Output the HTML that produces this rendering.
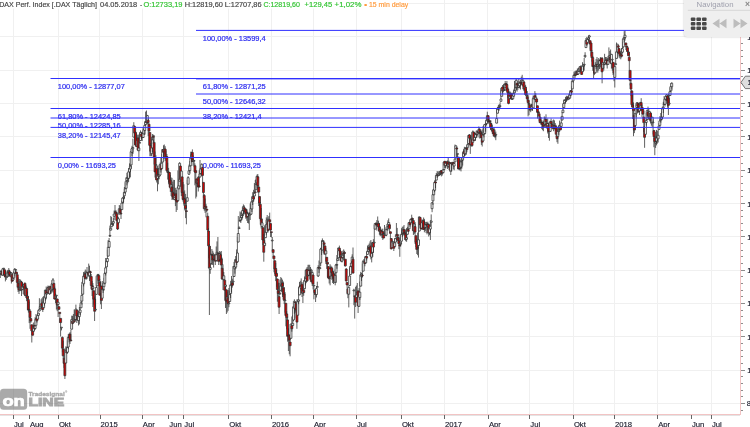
<!DOCTYPE html>
<html><head><meta charset="utf-8"><style>
html,body{margin:0;padding:0;background:#fff;width:750px;height:427px;overflow:hidden}
body{position:relative;font-family:"Liberation Sans",Arial,sans-serif}
.c{position:absolute;left:0;top:0}
.cd path{stroke:#2e2e2e;stroke-width:0.75} .cd .r{fill:#d80000} .cd .w{fill:#fff}
text{font-family:"Liberation Sans",Arial,sans-serif}
.fib text{font-size:7.45px;fill:#2f2ff0;stroke:#2f2ff0;stroke-width:0.22px}
.ax{font-size:7.7px;fill:#202030;stroke:#202030;stroke-width:0.15px}
.lg{font-weight:bold;font-size:15px;fill:#fff;stroke:#fff;stroke-width:0.7px}
.lg2{font-weight:bold;font-size:11.4px;fill:#555;stroke:#555;stroke-width:0.9px;opacity:0.5}
.lg3{font-weight:bold;font-size:5px;fill:#555;stroke:#555;stroke-width:0.3px;opacity:0.5}
.hd text{font-size:7.9px}
.hd text{stroke-width:0.18px} .hd .h{fill:#444;stroke:#444} .hd .g{fill:#33c433;stroke:#33c433} .hd .o{fill:#ff9a3c;stroke:#ff9a3c}
#nav{position:absolute;left:683.5px;top:-6px;width:80px;height:42.5px;background:#efefef;border-radius:3px;box-shadow:0 0 2px rgba(0,0,0,0.25);overflow:hidden}
#nav svg{position:absolute;left:0;top:0}
.nt{font-size:7.9px;fill:#9fa0ad}
.nx{font-size:8.5px;fill:#888;font-weight:bold}
</style></head><body>
<svg class="c" width="750" height="427" viewBox="0 0 750 427">
<path d="M13.5 0V414M58.5 0V414M99.5 0V414M142.5 0V414M183.5 0V414M228.5 0V414M271.5 0V414M313.5 0V414M356.5 0V414M401.5 0V414M444.5 0V414M487.5 0V414M529.5 0V414M573.5 0V414M614.5 0V414M657.5 0V414M711.5 0V414M0 3.5H740M0 36.5H740M0 70.5H740M0 103.5H740M0 136.5H740M0 170.5H740M0 203.5H740M0 236.5H740M0 270.5H740M0 303.5H740M0 336.5H740M0 370.5H740M0 403.5H740" stroke="#f0f0f0" stroke-width="1" fill="none" shape-rendering="crispEdges"/>
<g class="logo">
 <rect x="0" y="388.8" width="27.2" height="21" rx="3.6" fill="#555" opacity="0.5"/>
 <text x="2.4" y="406.4" class="lg" textLength="22.4" lengthAdjust="spacingAndGlyphs">on</text>
 <text x="28.4" y="406.3" class="lg2" textLength="35.8" lengthAdjust="spacingAndGlyphs">LINE</text>
 <text x="28.5" y="395.7" class="lg3" textLength="36.2" lengthAdjust="spacingAndGlyphs">Tradesignal</text>
 <text x="65.2" y="393.4" class="lg3" style="font-size:2.6px;stroke-width:0.1px">®</text>
</g>
<g class="cd"><path class="w" d="M0.3 270.6V273.6M0.3 274.4V278M-0.7 273.6h1.9v0.8h-1.9z"/><path class="w" d="M1.1 269.9V271.5M1.1 273.5V274.7M0.2 271.5h1.9v2h-1.9z"/><path class="r" d="M2 270.5V271.6M2 274.9V275.5M1.1 271.6h1.9v3.3h-1.9z"/><path class="w" d="M2.9 268.5V268.8M2.9 275.3V275.6M1.9 268.8h1.9v6.4h-1.9z"/><path class="w" d="M3.7 268V268.2M3.7 268.9V275.6M2.7 268.2h1.9v0.7h-1.9z"/><path class="r" d="M4.5 269.5V269.8M4.5 274.7V277M3.6 269.8h1.9v5h-1.9z"/><path class="r" d="M5.4 270.7V275.1M5.4 276.8V281.4M4.4 275.1h1.9v1.8h-1.9z"/><path class="w" d="M6.2 274.3V276.7M6.2 277.8V280M5.3 276.7h1.9v1.1h-1.9z"/><path class="w" d="M7.1 270.6V273M7.1 276.7V277.6M6.2 273h1.9v3.7h-1.9z"/><path class="w" d="M7.9 269.8V271.6M7.9 272.3V276.5M7 271.6h1.9v0.7h-1.9z"/><path class="w" d="M8.8 268V270.6M8.8 271.8V276.9M7.8 270.6h1.9v1.1h-1.9z"/><path class="r" d="M9.6 269.8V271.7M9.6 274.8V276M8.7 271.7h1.9v3.1h-1.9z"/><path class="r" d="M10.5 271.9V274.1M10.5 276.3V276.5M9.6 274.1h1.9v2.2h-1.9z"/><path class="w" d="M11.4 272V273.2M11.4 276.9V283.5M10.4 273.2h1.9v3.7h-1.9z"/><path class="r" d="M12.2 274.1V274.4M12.2 281.2V281.7M11.2 274.4h1.9v6.8h-1.9z"/><path class="w" d="M13 273.9V278.3M13 279.9V281M12.1 278.3h1.9v1.7h-1.9z"/><path class="w" d="M13.9 271.3V272.8M13.9 278V278.4M12.9 272.8h1.9v5.1h-1.9z"/><path class="w" d="M14.8 268V269.2M14.8 273V276.5M13.8 269.2h1.9v3.7h-1.9z"/><path class="w" d="M15.6 269.5V269.5M15.6 270.2V272.8M14.7 269.5h1.9v0.7h-1.9z"/><path class="r" d="M16.4 271.8V272.1M16.4 273.8V274.6M15.5 272.1h1.9v1.7h-1.9z"/><path class="r" d="M17.3 273V274.7M17.3 282.4V288.3M16.3 274.7h1.9v7.7h-1.9z"/><path class="r" d="M18.1 277.4V283M18.1 287V292M17.2 283h1.9v4h-1.9z"/><path class="r" d="M19 279V287.6M19 290.1V294M18.1 287.6h1.9v2.5h-1.9z"/><path class="w" d="M19.9 279V288M19.9 288.7V291.3M18.9 288h1.9v0.7h-1.9z"/><path class="w" d="M20.7 279.9V281.4M20.7 290V290.8M19.7 281.4h1.9v8.6h-1.9z"/><path class="r" d="M21.5 281V282.1M21.5 290V296M20.6 282.1h1.9v7.8h-1.9z"/><path class="w" d="M22.4 282.9V286.5M22.4 289.6V289.7M21.4 286.5h1.9v3.1h-1.9z"/><path class="w" d="M23.2 284.4V286.6M23.2 287.3V294.1M22.3 286.6h1.9v0.7h-1.9z"/><path class="w" d="M24.1 283.7V284.4M24.1 286.6V288M23.2 284.4h1.9v2.2h-1.9z"/><path class="r" d="M24.9 282.4V283.3M24.9 295V296.1M24 283.3h1.9v11.8h-1.9z"/><path class="w" d="M25.8 284.9V288.4M25.8 295.7V298M24.8 288.4h1.9v7.3h-1.9z"/><path class="r" d="M26.6 286.6V288.5M26.6 295.9V301.2M25.7 288.5h1.9v7.3h-1.9z"/><path class="r" d="M27.5 291.6V296.2M27.5 298.7V309.8M26.6 296.2h1.9v2.5h-1.9z"/><path class="r" d="M28.4 296.6V299.6M28.4 310.1V312.6M27.4 299.6h1.9v10.5h-1.9z"/><path class="r" d="M29.2 301.4V309.4M29.2 310.1V323.1M28.2 309.4h1.9v0.7h-1.9z"/><path class="r" d="M30 310.6V310.9M30 317.5V328.8M29.1 310.9h1.9v6.6h-1.9z"/><path class="r" d="M30.9 318.3V318.6M30.9 321.1V322.8M29.9 318.6h1.9v2.5h-1.9z"/><path class="r" d="M31.8 324.5V324.8M31.8 330.8V342.5M30.8 324.8h1.9v6h-1.9z"/><path class="r" d="M32.6 328.5V331.1M32.6 335.2V335.5M31.7 331.1h1.9v4.1h-1.9z"/><path class="w" d="M33.4 322.5V326.4M33.4 331.3V332M32.5 326.4h1.9v4.9h-1.9z"/><path class="r" d="M34.3 325.1V325.4M34.3 328.5V330.6M33.3 325.4h1.9v3h-1.9z"/><path class="w" d="M35.1 317.3V326M35.1 328.4V330M34.2 326h1.9v2.5h-1.9z"/><path class="w" d="M36 314V319.2M36 325.4V325.7M35 319.2h1.9v6.2h-1.9z"/><path class="r" d="M36.9 315.4V318M36.9 320.9V322.6M35.9 318h1.9v2.8h-1.9z"/><path class="w" d="M37.7 310.3V315.6M37.7 319.1V319.4M36.7 315.6h1.9v3.5h-1.9z"/><path class="w" d="M38.5 312.8V313.2M38.5 315.3V315.6M37.6 313.2h1.9v2.1h-1.9z"/><path class="w" d="M39.4 298.2V309.3M39.4 311V311.3M38.4 309.3h1.9v1.7h-1.9z"/><path class="w" d="M40.2 306.1V306.6M40.2 308.7V309M39.3 306.6h1.9v2h-1.9z"/><path class="w" d="M41.1 299.3V304.1M41.1 307.1V307.7M40.2 304.1h1.9v3h-1.9z"/><path class="r" d="M41.9 298.2V303.1M41.9 306.3V310.1M41 303.1h1.9v3.2h-1.9z"/><path class="r" d="M42.8 296.9V307.2M42.8 309.5V312M41.8 307.2h1.9v2.3h-1.9z"/><path class="w" d="M43.6 298.2V301.9M43.6 307.7V308M42.7 301.9h1.9v5.8h-1.9z"/><path class="w" d="M44.5 294V296.5M44.5 303.3V305.6M43.5 296.5h1.9v6.8h-1.9z"/><path class="w" d="M45.4 289.8V290.1M45.4 297.9V300.7M44.4 290.1h1.9v7.8h-1.9z"/><path class="r" d="M46.2 286.5V290.5M46.2 293.8V299.3M45.2 290.5h1.9v3.3h-1.9z"/><path class="w" d="M47 288.1V292.9M47 293.9V294.2M46.1 292.9h1.9v1h-1.9z"/><path class="w" d="M47.9 285.6V287.6M47.9 292.3V292.6M46.9 287.6h1.9v4.7h-1.9z"/><path class="r" d="M48.8 285.9V287.4M48.8 293.3V293.8M47.8 287.4h1.9v5.8h-1.9z"/><path class="w" d="M49.6 286V286.3M49.6 293.8V294.8M48.7 286.3h1.9v7.5h-1.9z"/><path class="r" d="M50.4 286.6V286.8M50.4 290V293.9M49.5 286.8h1.9v3.1h-1.9z"/><path class="w" d="M51.3 284.5V288.6M51.3 290.7V293.5M50.3 288.6h1.9v2.1h-1.9z"/><path class="w" d="M52.1 280.3V283.7M52.1 289.4V291.7M51.2 283.7h1.9v5.7h-1.9z"/><path class="w" d="M53 278V279.9M53 284.8V292.6M52 279.9h1.9v4.8h-1.9z"/><path class="r" d="M53.9 283.1V283.4M53.9 288.8V290M52.9 283.4h1.9v5.4h-1.9z"/><path class="r" d="M54.7 286.6V288.8M54.7 299V299.7M53.7 288.8h1.9v10.2h-1.9z"/><path class="w" d="M55.5 293.5V296.3M55.5 297.7V303.2M54.6 296.3h1.9v1.4h-1.9z"/><path class="w" d="M56.4 295V295.2M56.4 295.9V309.5M55.4 295.2h1.9v0.7h-1.9z"/><path class="r" d="M57.2 298.7V299M57.2 305.1V311.2M56.3 299h1.9v6.1h-1.9z"/><path class="w" d="M58.1 301.9V302.3M58.1 304.4V317M57.2 302.3h1.9v2.1h-1.9z"/><path class="r" d="M58.9 306.4V306.7M58.9 309.3V309.9M58 306.7h1.9v2.6h-1.9z"/><path class="r" d="M59.8 312V312.3M59.8 313.6V323M58.8 312.3h1.9v1.3h-1.9z"/><path class="r" d="M60.6 318.1V318.4M60.6 322.5V336.5M59.7 318.4h1.9v4.2h-1.9z"/><path class="w" d="M61.5 327.2V327.2M61.5 327.9V330.4M60.5 327.2h1.9v0.7h-1.9z"/><path class="r" d="M62.4 336.5V337.4M62.4 348.2V352.2M61.4 337.4h1.9v10.8h-1.9z"/><path class="r" d="M63.2 340.7V349.1M63.2 355.8V358.7M62.2 349.1h1.9v6.7h-1.9z"/><path class="r" d="M64 355.5V358.3M64 363.4V367.8M63.1 358.3h1.9v5.1h-1.9z"/><path class="r" d="M64.9 348.4V359.5M64.9 375.7V379M63.9 359.5h1.9v16.2h-1.9z"/><path class="w" d="M65.8 346.4V350.4M65.8 363V363.3M64.8 350.4h1.9v12.6h-1.9z"/><path class="r" d="M66.6 346.7V351.3M66.6 352.6V353.1M65.7 351.3h1.9v1.4h-1.9z"/><path class="w" d="M67.4 340.4V347.5M67.4 352.2V353.8M66.5 347.5h1.9v4.7h-1.9z"/><path class="w" d="M68.3 334V337.5M68.3 347.1V349.2M67.3 337.5h1.9v9.5h-1.9z"/><path class="w" d="M69.1 333.4V336.2M69.1 336.9V342.3M68.2 336.2h1.9v0.7h-1.9z"/><path class="r" d="M70 332.1V334.1M70 339.8V344M69 334.1h1.9v5.6h-1.9z"/><path class="r" d="M70.9 329.8V340M70.9 340.7V341.5M69.9 340h1.9v0.7h-1.9z"/><path class="w" d="M71.7 315.7V319.7M71.7 329.2V329.5M70.7 319.7h1.9v9.5h-1.9z"/><path class="r" d="M72.5 315.8V321M72.5 323.5V324.4M71.6 321h1.9v2.5h-1.9z"/><path class="w" d="M73.4 314V319.2M73.4 322.6V323M72.4 319.2h1.9v3.4h-1.9z"/><path class="r" d="M74.2 309.5V320.2M74.2 321.8V322.1M73.3 320.2h1.9v1.6h-1.9z"/><path class="w" d="M75.1 310.4V319.7M75.1 320.4V320.4M74.2 319.7h1.9v0.7h-1.9z"/><path class="w" d="M75.9 304.6V309.1M75.9 319.5V319.8M75 309.1h1.9v10.4h-1.9z"/><path class="r" d="M76.8 309.8V310.1M76.8 315.8V323M75.8 310.1h1.9v5.8h-1.9z"/><path class="r" d="M77.6 312.9V316.2M77.6 319.7V320.7M76.7 316.2h1.9v3.4h-1.9z"/><path class="w" d="M78.5 310.8V316.6M78.5 320.6V325.5M77.5 316.6h1.9v4h-1.9z"/><path class="w" d="M79.4 307V312.6M79.4 316.6V324.4M78.4 312.6h1.9v4h-1.9z"/><path class="w" d="M80.2 304.6V310M80.2 312.7V315.1M79.2 310h1.9v2.7h-1.9z"/><path class="w" d="M81 300.5V302.9M81 307.8V308.1M80.1 302.9h1.9v4.9h-1.9z"/><path class="w" d="M81.9 285V295.4M81.9 301.1V304.6M80.9 295.4h1.9v5.7h-1.9z"/><path class="w" d="M82.8 278.7V282.2M82.8 294.2V295M81.8 282.2h1.9v12h-1.9z"/><path class="w" d="M83.6 272V276.1M83.6 283.8V286.4M82.7 276.1h1.9v7.7h-1.9z"/><path class="w" d="M84.4 271.5V273.6M84.4 276.6V277.3M83.5 273.6h1.9v3h-1.9z"/><path class="r" d="M85.3 269.5V274.1M85.3 278.5V279M84.3 274.1h1.9v4.4h-1.9z"/><path class="w" d="M86.1 270.6V278.3M86.1 279.1V279.1M85.2 278.3h1.9v0.7h-1.9z"/><path class="w" d="M87 267V272.4M87 277V277.3M86 272.4h1.9v4.7h-1.9z"/><path class="w" d="M87.9 271.8V272.6M87.9 273.3V276M86.9 272.6h1.9v0.7h-1.9z"/><path class="r" d="M88.7 263.6V272.5M88.7 274.8V276.3M87.7 272.5h1.9v2.3h-1.9z"/><path class="w" d="M89.5 265.7V271.5M89.5 275.8V281M88.6 271.5h1.9v4.3h-1.9z"/><path class="r" d="M90.4 270.7V271.7M90.4 272.7V278.6M89.4 271.7h1.9v1h-1.9z"/><path class="r" d="M91.2 274V276.5M91.2 285.5V288.9M90.3 276.5h1.9v9h-1.9z"/><path class="r" d="M92.1 281V285.6M92.1 289.5V296M91.2 285.6h1.9v3.9h-1.9z"/><path class="w" d="M92.9 283V286.9M92.9 288.4V307M92 286.9h1.9v1.5h-1.9z"/><path class="r" d="M93.8 290.5V290.8M93.8 299.2V304.5M92.8 290.8h1.9v8.4h-1.9z"/><path class="r" d="M94.6 296.6V299.1M94.6 311.3V321M93.7 299.1h1.9v12.2h-1.9z"/><path class="w" d="M95.5 293V309.3M95.5 310.1V310.1M94.5 309.3h1.9v0.7h-1.9z"/><path class="w" d="M96.4 276.5V287.5M96.4 294.4V294.7M95.4 287.5h1.9v6.9h-1.9z"/><path class="w" d="M97.2 275.5V275.8M97.2 285.8V286.1M96.2 275.8h1.9v10.1h-1.9z"/><path class="w" d="M98 274V274.4M98 275.1V283.8M97.1 274.4h1.9v0.7h-1.9z"/><path class="r" d="M98.9 275.3V275.6M98.9 280.6V286M97.9 275.6h1.9v5h-1.9z"/><path class="r" d="M99.8 278.9V282.2M99.8 295.2V296M98.8 282.2h1.9v12.9h-1.9z"/><path class="w" d="M100.6 281V286.6M100.6 293.3V304.3M99.7 286.6h1.9v6.7h-1.9z"/><path class="r" d="M101.4 285.8V286.1M101.4 300.4V309M100.5 286.1h1.9v14.3h-1.9z"/><path class="w" d="M102.3 281V289.4M102.3 298.2V298.5M101.3 289.4h1.9v8.8h-1.9z"/><path class="w" d="M103.1 288.8V289.2M103.1 289.9V293M102.2 289.2h1.9v0.7h-1.9z"/><path class="w" d="M104 277.8V283M104 286.7V290.6M103 283h1.9v3.7h-1.9z"/><path class="w" d="M104.9 272V273.4M104.9 283.2V284.4M103.9 273.4h1.9v9.8h-1.9z"/><path class="w" d="M105.7 258V267.8M105.7 273.1V275.5M104.7 267.8h1.9v5.3h-1.9z"/><path class="w" d="M106.5 260.6V261.3M106.5 266.9V267.3M105.6 261.3h1.9v5.6h-1.9z"/><path class="w" d="M107.4 249.8V258.5M107.4 261.6V262.5M106.4 258.5h1.9v3.1h-1.9z"/><path class="w" d="M108.2 240V247.3M108.2 256.1V256.4M107.3 247.3h1.9v8.8h-1.9z"/><path class="w" d="M109.1 238V241.5M109.1 247.3V248M108.2 241.5h1.9v5.8h-1.9z"/><path class="w" d="M109.9 225.6V235.4M109.9 236.1V237M109 235.4h1.9v0.7h-1.9z"/><path class="w" d="M110.8 216V228.3M110.8 230V230.3M109.8 228.3h1.9v1.8h-1.9z"/><path class="w" d="M111.6 217V223.8M111.6 226.8V227.1M110.7 223.8h1.9v2.9h-1.9z"/><path class="w" d="M112.5 222.6V223.9M112.5 224.6V224.8M111.5 223.9h1.9v0.7h-1.9z"/><path class="w" d="M113.4 217.7V221.5M113.4 223.2V226M112.4 221.5h1.9v1.7h-1.9z"/><path class="w" d="M114.2 210.4V214M114.2 216.3V220.3M113.2 214h1.9v2.3h-1.9z"/><path class="w" d="M115 205V211.7M115 212.4V213.3M114.1 211.7h1.9v0.7h-1.9z"/><path class="r" d="M115.9 210.1V212M115.9 213.6V215.7M114.9 212h1.9v1.6h-1.9z"/><path class="r" d="M116.8 212V213.7M116.8 220.4V220.7M115.8 213.7h1.9v6.7h-1.9z"/><path class="r" d="M117.6 216V219.6M117.6 228.9V230M116.7 219.6h1.9v9.4h-1.9z"/><path class="w" d="M118.4 217.1V218.8M118.4 222.7V224.5M117.5 218.8h1.9v3.9h-1.9z"/><path class="w" d="M119.3 205V208.7M119.3 214V214.3M118.3 208.7h1.9v5.4h-1.9z"/><path class="r" d="M120.1 205.7V209.3M120.1 213V213.3M119.2 209.3h1.9v3.6h-1.9z"/><path class="r" d="M121 208.3V213.3M121 214V219M120 213.3h1.9v0.7h-1.9z"/><path class="w" d="M121.9 200.6V203.1M121.9 209.6V209.9M120.9 203.1h1.9v6.5h-1.9z"/><path class="w" d="M122.7 197.8V198.1M122.7 202.2V203.5M121.7 198.1h1.9v4.1h-1.9z"/><path class="w" d="M123.5 192.6V197.1M123.5 197.9V203.4M122.6 197.1h1.9v0.8h-1.9z"/><path class="w" d="M124.4 187V192.4M124.4 195.8V199.2M123.4 192.4h1.9v3.4h-1.9z"/><path class="w" d="M125.2 182.3V188.8M125.2 192.1V194M124.3 188.8h1.9v3.3h-1.9z"/><path class="w" d="M126.1 177.1V181.2M126.1 188.3V189M125.2 181.2h1.9v7.1h-1.9z"/><path class="w" d="M126.9 172.8V178M126.9 180.5V185.4M126 178h1.9v2.6h-1.9z"/><path class="w" d="M127.8 175.5V178M127.8 178.7V183.3M126.8 178h1.9v0.7h-1.9z"/><path class="w" d="M128.6 168.1V171.8M128.6 178.2V182M127.7 171.8h1.9v6.5h-1.9z"/><path class="w" d="M129.5 163.4V168.5M129.5 172V177.4M128.6 168.5h1.9v3.4h-1.9z"/><path class="w" d="M130.4 158.1V166.1M130.4 169.1V177.3M129.4 166.1h1.9v3h-1.9z"/><path class="w" d="M131.2 149V151.7M131.2 164.9V168.5M130.2 151.7h1.9v13.2h-1.9z"/><path class="w" d="M132 145.8V148.5M132 152.4V156.1M131.1 148.5h1.9v3.9h-1.9z"/><path class="w" d="M132.9 138.7V147.5M132.9 148.8V154M131.9 147.5h1.9v1.3h-1.9z"/><path class="w" d="M133.8 122.2V125.7M133.8 137.1V137.4M132.8 125.7h1.9v11.4h-1.9z"/><path class="r" d="M134.6 125.9V126.6M134.6 133V144.5M133.7 126.6h1.9v6.5h-1.9z"/><path class="r" d="M135.4 131.4V132.3M135.4 145.1V145.4M134.5 132.3h1.9v12.7h-1.9z"/><path class="r" d="M136.3 132.8V145.4M136.3 146.3V146.8M135.3 145.4h1.9v0.9h-1.9z"/><path class="w" d="M137.1 134.5V140.6M137.1 146.3V146.8M136.2 140.6h1.9v5.7h-1.9z"/><path class="r" d="M138 135V137.9M138 150V151.1M137.1 137.9h1.9v12.2h-1.9z"/><path class="w" d="M138.9 134.4V148M138.9 150.7V161M137.9 148h1.9v2.7h-1.9z"/><path class="w" d="M139.7 132.8V142.5M139.7 143.2V143.3M138.7 142.5h1.9v0.7h-1.9z"/><path class="w" d="M140.5 130.4V132.4M140.5 140.5V140.8M139.6 132.4h1.9v8.1h-1.9z"/><path class="r" d="M141.4 132.1V134M141.4 136.6V139M140.4 134h1.9v2.6h-1.9z"/><path class="r" d="M142.2 131.6V136.8M142.2 137.5V141M141.3 136.8h1.9v0.7h-1.9z"/><path class="w" d="M143.1 127V133.5M143.1 137.5V137.8M142.2 133.5h1.9v4h-1.9z"/><path class="w" d="M143.9 129.1V129.5M143.9 133.9V134.2M143 129.5h1.9v4.4h-1.9z"/><path class="w" d="M144.8 121.1V125.4M144.8 130.4V135M143.8 125.4h1.9v5.1h-1.9z"/><path class="w" d="M145.6 111.6V122.2M145.6 124.5V125.8M144.7 122.2h1.9v2.3h-1.9z"/><path class="r" d="M146.5 110.5V121.7M146.5 122.4V122.9M145.6 121.7h1.9v0.7h-1.9z"/><path class="w" d="M147.4 114.9V115.6M147.4 122.3V124.2M146.4 115.6h1.9v6.7h-1.9z"/><path class="r" d="M148.2 118.7V120.3M148.2 122.6V136M147.2 120.3h1.9v2.3h-1.9z"/><path class="r" d="M149 123.4V124.2M149 131V145M148.1 124.2h1.9v6.8h-1.9z"/><path class="r" d="M149.9 132.1V132.4M149.9 145.7V156.2M148.9 132.4h1.9v13.3h-1.9z"/><path class="r" d="M150.8 143V145.5M150.8 151.3V156.2M149.8 145.5h1.9v5.8h-1.9z"/><path class="w" d="M151.6 136.9V147.8M151.6 153.7V156.2M150.7 147.8h1.9v5.9h-1.9z"/><path class="w" d="M152.4 134V139.9M152.4 147.9V152.1M151.5 139.9h1.9v8h-1.9z"/><path class="r" d="M153.3 134.6V136.3M153.3 137.3V144M152.3 136.3h1.9v1h-1.9z"/><path class="r" d="M154.1 135V142.4M154.1 156.9V164.5M153.2 142.4h1.9v14.5h-1.9z"/><path class="r" d="M155 151.5V157.7M155 171.8V177.5M154.1 157.7h1.9v14.2h-1.9z"/><path class="w" d="M155.9 155.2V164.5M155.9 165.2V179.6M154.9 164.5h1.9v0.8h-1.9z"/><path class="r" d="M156.7 168.7V168.7M156.7 180V182.5M155.7 168.7h1.9v11.3h-1.9z"/><path class="w" d="M157.5 165.6V174.4M157.5 178.4V191.3M156.6 174.4h1.9v4h-1.9z"/><path class="r" d="M158.4 168V174.5M158.4 176.3V184.3M157.4 174.5h1.9v1.8h-1.9z"/><path class="w" d="M159.2 165.6V174.8M159.2 176.2V179.3M158.3 174.8h1.9v1.4h-1.9z"/><path class="w" d="M160.1 162.6V164.6M160.1 175V175.3M159.1 164.6h1.9v10.4h-1.9z"/><path class="r" d="M160.9 157.9V165M160.9 169.5V172.6M160 165h1.9v4.6h-1.9z"/><path class="w" d="M161.8 154V163.2M161.8 168.5V168.8M160.8 163.2h1.9v5.3h-1.9z"/><path class="w" d="M162.6 149.4V149.6M162.6 162.1V162.4M161.7 149.6h1.9v12.5h-1.9z"/><path class="r" d="M163.5 145.3V149.6M163.5 152.4V158.5M162.5 149.6h1.9v2.7h-1.9z"/><path class="w" d="M164.3 144.5V149.3M164.3 150.7V154.3M163.4 149.3h1.9v1.4h-1.9z"/><path class="r" d="M165.2 146.2V149M165.2 158V161M164.2 149h1.9v9h-1.9z"/><path class="w" d="M166 150.4V156.5M166 158.9V159.1M165.1 156.5h1.9v2.3h-1.9z"/><path class="r" d="M166.9 154V156.6M166.9 170.5V172.6M165.9 156.6h1.9v13.9h-1.9z"/><path class="w" d="M167.7 162.8V171.4M167.7 172.1V179.6M166.8 171.4h1.9v0.7h-1.9z"/><path class="r" d="M168.6 167.9V172.1M168.6 172.8V184.3M167.6 172.1h1.9v0.7h-1.9z"/><path class="r" d="M169.4 172.2V172.5M169.4 182.2V187M168.5 172.5h1.9v9.7h-1.9z"/><path class="r" d="M170.3 175V180.1M170.3 187.4V191.9M169.3 180.1h1.9v7.3h-1.9z"/><path class="w" d="M171.1 177.4V184.4M171.1 188.7V196M170.2 184.4h1.9v4.3h-1.9z"/><path class="r" d="M172 177.9V187M172 191.8V200M171 187h1.9v4.8h-1.9z"/><path class="r" d="M172.8 181.6V192.3M172.8 196.9V199.5M171.9 192.3h1.9v4.6h-1.9z"/><path class="r" d="M173.7 179.8V193.8M173.7 198.9V199.2M172.8 193.8h1.9v5h-1.9z"/><path class="w" d="M174.5 180V195.7M174.5 199.6V200M173.6 195.7h1.9v3.9h-1.9z"/><path class="w" d="M175.4 187.8V196.9M175.4 197.6V206.1M174.4 196.9h1.9v0.7h-1.9z"/><path class="r" d="M176.2 190V193.8M176.2 200.8V212M175.3 193.8h1.9v6.9h-1.9z"/><path class="r" d="M177.1 189.7V199.7M177.1 202V210M176.1 199.7h1.9v2.3h-1.9z"/><path class="w" d="M177.9 170.4V187.5M177.9 200.6V200.9M177 187.5h1.9v13.1h-1.9z"/><path class="w" d="M178.8 178.7V185.8M178.8 188.9V189.2M177.8 185.8h1.9v3h-1.9z"/><path class="w" d="M179.6 162.2V163.3M179.6 181.1V181.4M178.7 163.3h1.9v17.8h-1.9z"/><path class="r" d="M180.5 165.8V166.1M180.5 179.6V186.8M179.5 166.1h1.9v13.5h-1.9z"/><path class="w" d="M181.3 170.8V171.1M181.3 180.1V196M180.4 171.1h1.9v9.1h-1.9z"/><path class="r" d="M182.2 176.6V176.9M182.2 192.6V196.3M181.2 176.9h1.9v15.6h-1.9z"/><path class="r" d="M183 182V192.2M183 199.5V201.6M182.1 192.2h1.9v7.3h-1.9z"/><path class="r" d="M183.9 184.3V198.2M183.9 199.3V205.6M182.9 198.2h1.9v1.1h-1.9z"/><path class="r" d="M184.7 190.4V199M184.7 203.7V210.4M183.8 199h1.9v4.7h-1.9z"/><path class="r" d="M185.6 193.9V205.4M185.6 208.5V218.1M184.6 205.4h1.9v3.1h-1.9z"/><path class="r" d="M186.4 200.1V210.8M186.4 211.5V224.3M185.5 210.8h1.9v0.7h-1.9z"/><path class="w" d="M187.3 179.8V197.7M187.3 201.3V201.6M186.3 197.7h1.9v3.5h-1.9z"/><path class="w" d="M188.1 176.1V177.7M188.1 184.2V184.5M187.2 177.7h1.9v6.5h-1.9z"/><path class="w" d="M189 164.6V170.8M189 174.2V175M188 170.8h1.9v3.4h-1.9z"/><path class="w" d="M189.8 161V166.1M189.8 170.5V172.9M188.9 166.1h1.9v4.4h-1.9z"/><path class="w" d="M190.7 151.7V157.7M190.7 165.7V166M189.8 157.7h1.9v8h-1.9z"/><path class="w" d="M191.5 151.7V154.7M191.5 158.8V162.3M190.6 154.7h1.9v4h-1.9z"/><path class="r" d="M192.4 149.4V152.5M192.4 161.5V161.8M191.4 152.5h1.9v9h-1.9z"/><path class="w" d="M193.2 155.5V160.1M193.2 161V165.8M192.3 160.1h1.9v0.9h-1.9z"/><path class="w" d="M194.1 160.5V160.5M194.1 161.2V167.2M193.1 160.5h1.9v0.7h-1.9z"/><path class="r" d="M194.9 163.4V165.7M194.9 171.9V185.3M194 165.7h1.9v6.2h-1.9z"/><path class="r" d="M195.8 170.4V170.7M195.8 172.7V198.5M194.8 170.7h1.9v2h-1.9z"/><path class="r" d="M196.6 178.6V178.9M196.6 183.2V196.7M195.7 178.9h1.9v4.3h-1.9z"/><path class="w" d="M197.5 180V180.3M197.5 182.9V187M196.5 180.3h1.9v2.6h-1.9z"/><path class="r" d="M198.3 176V177.4M198.3 187.1V191.5M197.4 177.4h1.9v9.7h-1.9z"/><path class="r" d="M199.2 170.4V185.9M199.2 186.9V187.2M198.2 185.9h1.9v1h-1.9z"/><path class="w" d="M200 160V174M200 177V177.3M199.1 174h1.9v3h-1.9z"/><path class="w" d="M200.9 167.8V168.6M200.9 173.4V173.7M199.9 168.6h1.9v4.9h-1.9z"/><path class="w" d="M201.7 163.4V164.3M201.7 169.6V176M200.8 164.3h1.9v5.3h-1.9z"/><path class="r" d="M202.6 167.2V167.5M202.6 175.5V183.3M201.6 167.5h1.9v7.9h-1.9z"/><path class="r" d="M203.4 182.1V182.4M203.4 192.5V197.8M202.5 182.4h1.9v10.1h-1.9z"/><path class="r" d="M204.3 194V195.5M204.3 208.7V210.7M203.3 195.5h1.9v13.2h-1.9z"/><path class="w" d="M205.1 198.5V206.9M205.1 208.3V212.8M204.2 206.9h1.9v1.4h-1.9z"/><path class="r" d="M206 203.8V206.3M206 207.8V217.3M205 206.3h1.9v1.5h-1.9z"/><path class="r" d="M206.8 208.8V209.1M206.8 210.2V212M205.9 209.1h1.9v1.1h-1.9z"/><path class="r" d="M207.7 212.6V216.3M207.7 229.9V231.2M206.8 216.3h1.9v13.6h-1.9z"/><path class="r" d="M208.5 228V231M208.5 245.7V258.3M207.6 231h1.9v14.8h-1.9z"/><path class="r" d="M209.4 244V246.2M209.4 268.1V315M208.4 246.2h1.9v21.9h-1.9z"/><path class="w" d="M210.2 246V267.5M210.2 269.4V273.8M209.3 267.5h1.9v1.9h-1.9z"/><path class="w" d="M211.1 253.4V254.6M211.1 263.7V264M210.1 254.6h1.9v9.1h-1.9z"/><path class="r" d="M211.9 249V254.5M211.9 255.7V265M211 254.5h1.9v1.1h-1.9z"/><path class="r" d="M212.8 250.8V255.5M212.8 260.1V265M211.8 255.5h1.9v4.6h-1.9z"/><path class="r" d="M213.6 252.7V258.1M213.6 258.9V267.6M212.7 258.1h1.9v0.8h-1.9z"/><path class="w" d="M214.5 254.5V254.8M214.5 259V260.4M213.5 254.8h1.9v4.1h-1.9z"/><path class="r" d="M215.3 254.8V255.1M215.3 261.2V265M214.4 255.1h1.9v6.1h-1.9z"/><path class="w" d="M216.2 246.5V254.8M216.2 260.6V261.3M215.2 254.8h1.9v5.8h-1.9z"/><path class="w" d="M217 241.4V252.3M217 254V254.3M216.1 252.3h1.9v1.7h-1.9z"/><path class="w" d="M217.9 237V252.8M217.9 253.5V261.8M216.9 252.8h1.9v0.7h-1.9z"/><path class="r" d="M218.7 253.4V253.7M218.7 261.2V265M217.8 253.7h1.9v7.5h-1.9z"/><path class="w" d="M219.6 251V253.9M219.6 259.7V261.7M218.6 253.9h1.9v5.8h-1.9z"/><path class="r" d="M220.4 251.8V254.7M220.4 260.2V262.8M219.5 254.7h1.9v5.5h-1.9z"/><path class="r" d="M221.3 251V259M221.3 265V268.7M220.3 259h1.9v6h-1.9z"/><path class="r" d="M222.1 257.7V268.3M222.1 279.1V280M221.2 268.3h1.9v10.7h-1.9z"/><path class="w" d="M223 264.4V277.1M223 277.8V290M222 277.1h1.9v0.7h-1.9z"/><path class="w" d="M223.8 272V275.8M223.8 279.4V281.3M222.9 275.8h1.9v3.6h-1.9z"/><path class="r" d="M224.7 279.3V280.2M224.7 290.2V300.7M223.8 280.2h1.9v10h-1.9z"/><path class="w" d="M225.5 284.8V285.1M225.5 286.4V308M224.6 285.1h1.9v1.3h-1.9z"/><path class="r" d="M226.4 289.5V289.8M226.4 301.1V314M225.4 289.8h1.9v11.4h-1.9z"/><path class="w" d="M227.2 291.5V297M227.2 300V312.5M226.3 297h1.9v3h-1.9z"/><path class="r" d="M228.1 290V297.8M228.1 303.7V310.8M227.1 297.8h1.9v5.9h-1.9z"/><path class="w" d="M228.9 288V303.1M228.9 303.8V307.2M228 303.1h1.9v0.7h-1.9z"/><path class="w" d="M229.8 290.8V294.6M229.8 301.5V301.8M228.8 294.6h1.9v6.9h-1.9z"/><path class="w" d="M230.6 280.8V284.9M230.6 293.6V298M229.7 284.9h1.9v8.7h-1.9z"/><path class="w" d="M231.5 276V284.6M231.5 285.6V292.5M230.5 284.6h1.9v1h-1.9z"/><path class="r" d="M232.3 278.7V282.9M232.3 285.3V287.6M231.4 282.9h1.9v2.4h-1.9z"/><path class="w" d="M233.2 266V281.2M233.2 282V285M232.2 281.2h1.9v0.8h-1.9z"/><path class="w" d="M234 261.9V266.4M234 276.5V277M233.1 266.4h1.9v10.1h-1.9z"/><path class="w" d="M234.9 259V266.7M234.9 268.8V273.7M233.9 266.7h1.9v2.1h-1.9z"/><path class="w" d="M235.7 256V260M235.7 267.1V268.7M234.8 260h1.9v7.1h-1.9z"/><path class="r" d="M236.6 249.4V260.1M236.6 262.4V265M235.6 260.1h1.9v2.3h-1.9z"/><path class="w" d="M237.4 237V253M237.4 261.8V262.1M236.5 253h1.9v8.8h-1.9z"/><path class="w" d="M238.3 216V233.5M238.3 242.1V242.4M237.3 233.5h1.9v8.5h-1.9z"/><path class="w" d="M239.1 226.3V227.8M239.1 228.5V228.5M238.2 227.8h1.9v0.7h-1.9z"/><path class="w" d="M240 211.4V220.5M240 221.2V221.2M239 220.5h1.9v0.7h-1.9z"/><path class="w" d="M240.8 212.4V217.4M240.8 220V223M239.9 217.4h1.9v2.6h-1.9z"/><path class="w" d="M241.7 212.2V215.5M241.7 217.6V220.3M240.8 215.5h1.9v2.1h-1.9z"/><path class="w" d="M242.5 207.5V210.6M242.5 214V218.4M241.6 210.6h1.9v3.4h-1.9z"/><path class="w" d="M243.4 204.4V206.7M243.4 210.3V216M242.4 206.7h1.9v3.6h-1.9z"/><path class="r" d="M244.2 205.3V207.7M244.2 209.4V214.2M243.3 207.7h1.9v1.6h-1.9z"/><path class="r" d="M245.1 209.1V209.3M245.1 211.8V214.5M244.1 209.3h1.9v2.5h-1.9z"/><path class="r" d="M245.9 208V209.7M245.9 213.3V218.9M245 209.7h1.9v3.6h-1.9z"/><path class="r" d="M246.8 209V212.7M246.8 217.2V220.8M245.8 212.7h1.9v4.5h-1.9z"/><path class="w" d="M247.6 211.5V213.6M247.6 216.2V223M246.7 213.6h1.9v2.7h-1.9z"/><path class="w" d="M248.5 213.1V213.3M248.5 214V223.5M247.5 213.3h1.9v0.7h-1.9z"/><path class="w" d="M249.3 212.4V213.3M249.3 214.2V230M248.4 213.3h1.9v0.8h-1.9z"/><path class="w" d="M250.2 203.5V214.1M250.2 214.9V220M249.2 214.1h1.9v0.9h-1.9z"/><path class="w" d="M251 201.4V208.5M251 214.2V214.5M250.1 208.5h1.9v5.7h-1.9z"/><path class="w" d="M251.9 196.9V201.9M251.9 208.9V212M250.9 201.9h1.9v7h-1.9z"/><path class="w" d="M252.7 192.2V196.4M252.7 200.7V205M251.8 196.4h1.9v4.3h-1.9z"/><path class="r" d="M253.6 189.8V196.8M253.6 199.1V202M252.6 196.8h1.9v2.3h-1.9z"/><path class="w" d="M254.4 183V193.3M254.4 196V196.3M253.5 193.3h1.9v2.7h-1.9z"/><path class="r" d="M255.3 180V191.9M255.3 192.6V192.8M254.3 191.9h1.9v0.7h-1.9z"/><path class="w" d="M256.1 179.1V184.4M256.1 189.7V190M255.2 184.4h1.9v5.3h-1.9z"/><path class="w" d="M257 174.6V176.4M257 182.9V188.8M256 176.4h1.9v6.5h-1.9z"/><path class="r" d="M257.8 174V176.8M257.8 185.6V192.6M256.9 176.8h1.9v8.9h-1.9z"/><path class="r" d="M258.7 185.5V187M258.7 192.1V206M257.8 187h1.9v5.1h-1.9z"/><path class="r" d="M259.5 196.3V196.6M259.5 203.1V207.4M258.6 196.6h1.9v6.5h-1.9z"/><path class="r" d="M260.4 202V204.3M260.4 218.7V221.3M259.4 204.3h1.9v14.4h-1.9z"/><path class="r" d="M261.2 208V219M261.2 224.6V228.5M260.3 219h1.9v5.6h-1.9z"/><path class="w" d="M262.1 218.5V222.8M262.1 226.5V240M261.1 222.8h1.9v3.7h-1.9z"/><path class="r" d="M262.9 227.4V227.7M262.9 240.1V245M262 227.7h1.9v12.4h-1.9z"/><path class="r" d="M263.8 234V240.2M263.8 252.3V261.7M262.8 240.2h1.9v12.1h-1.9z"/><path class="w" d="M264.6 225.4V243.1M264.6 245.6V245.9M263.7 243.1h1.9v2.5h-1.9z"/><path class="w" d="M265.5 225V232.1M265.5 237.7V238M264.5 232.1h1.9v5.6h-1.9z"/><path class="w" d="M266.3 217.4V224.3M266.3 232.5V234.8M265.4 224.3h1.9v8.1h-1.9z"/><path class="w" d="M267.2 215V220M267.2 223.2V227.8M266.2 220h1.9v3.2h-1.9z"/><path class="r" d="M268 217.4V220.9M268 230.6V232.5M267.1 220.9h1.9v9.7h-1.9z"/><path class="w" d="M268.9 216V220.1M268.9 229.2V229.5M267.9 220.1h1.9v9.1h-1.9z"/><path class="r" d="M269.7 212.6V219.8M269.7 221.8V226.8M268.8 219.8h1.9v1.9h-1.9z"/><path class="r" d="M270.6 223.3V223.6M270.6 229.9V237M269.6 223.6h1.9v6.4h-1.9z"/><path class="r" d="M271.4 231.7V231.8M271.4 232.5V237.5M270.5 231.8h1.9v0.7h-1.9z"/><path class="w" d="M272.3 237V240.2M272.3 240.9V251.5M271.3 240.2h1.9v0.7h-1.9z"/><path class="r" d="M273.1 249V249.7M273.1 252.6V258.6M272.2 249.7h1.9v2.9h-1.9z"/><path class="r" d="M274 255.7V256M274 258.9V272.3M273 256h1.9v2.8h-1.9z"/><path class="r" d="M274.8 260.5V260.8M274.8 269.1V274M273.9 260.8h1.9v8.3h-1.9z"/><path class="r" d="M275.7 263V268.5M275.7 275.7V281.1M274.8 268.5h1.9v7.2h-1.9z"/><path class="r" d="M276.5 270V273.4M276.5 276.5V286.8M275.6 273.4h1.9v3h-1.9z"/><path class="r" d="M277.4 278.7V279M277.4 289.5V301.7M276.4 279h1.9v10.5h-1.9z"/><path class="r" d="M278.2 282.7V290.7M278.2 293.6V296.3M277.3 290.7h1.9v2.8h-1.9z"/><path class="r" d="M279.1 282.9V296.6M279.1 307.1V314M278.1 296.6h1.9v10.6h-1.9z"/><path class="w" d="M279.9 279.5V293.4M279.9 294.1V294.3M279 293.4h1.9v0.7h-1.9z"/><path class="w" d="M280.8 277V286M280.8 290.3V290.6M279.8 286h1.9v4.3h-1.9z"/><path class="w" d="M281.6 278.1V284.4M281.6 286.2V292.2M280.7 284.4h1.9v1.7h-1.9z"/><path class="r" d="M282.5 279.6V282.9M282.5 286.3V297M281.5 282.9h1.9v3.4h-1.9z"/><path class="r" d="M283.3 281.5V287.8M283.3 294.6V299.3M282.4 287.8h1.9v6.8h-1.9z"/><path class="r" d="M284.2 287V293.8M284.2 300.1V304.1M283.2 293.8h1.9v6.4h-1.9z"/><path class="w" d="M285 292V300M285 300.7V312.6M284.1 300h1.9v0.7h-1.9z"/><path class="r" d="M285.9 303V303.3M285.9 315.5V326.3M284.9 303.3h1.9v12.2h-1.9z"/><path class="r" d="M286.7 311.2V313.9M286.7 317.7V329.2M285.8 313.9h1.9v3.7h-1.9z"/><path class="r" d="M287.6 316.5V319.9M287.6 336.3V341.7M286.6 319.9h1.9v16.4h-1.9z"/><path class="r" d="M288.4 328.3V335.3M288.4 336V351M287.5 335.3h1.9v0.7h-1.9z"/><path class="r" d="M289.3 334.8V335.1M289.3 340.2V354.3M288.3 335.1h1.9v5.1h-1.9z"/><path class="r" d="M290.1 334.3V342M290.1 345.7V356.3M289.2 342h1.9v3.7h-1.9z"/><path class="w" d="M291 323.8V324.1M291 338.3V338.6M290 324.1h1.9v14.2h-1.9z"/><path class="r" d="M291.8 316.5V325.6M291.8 328.8V331.7M290.9 325.6h1.9v3.1h-1.9z"/><path class="w" d="M292.7 315.1V323.3M292.7 325.4V325.7M291.8 323.3h1.9v2.2h-1.9z"/><path class="w" d="M293.5 305.8V306.8M293.5 320V321.4M292.6 306.8h1.9v13.1h-1.9z"/><path class="w" d="M294.4 299.3V301.3M294.4 308.1V313.8M293.4 301.3h1.9v6.9h-1.9z"/><path class="r" d="M295.2 301.5V302.2M295.2 302.9V312.6M294.3 302.2h1.9v0.7h-1.9z"/><path class="r" d="M296.1 303.4V303.7M296.1 310V318.5M295.1 303.7h1.9v6.3h-1.9z"/><path class="r" d="M296.9 299.3V310.2M296.9 322.1V328.8M296 310.2h1.9v11.9h-1.9z"/><path class="w" d="M297.8 299.4V301.7M297.8 315.3V315.6M296.8 301.7h1.9v13.5h-1.9z"/><path class="w" d="M298.6 287.9V299.9M298.6 301.2V304.2M297.7 299.9h1.9v1.3h-1.9z"/><path class="w" d="M299.5 282V286.9M299.5 294.8V295.1M298.5 286.9h1.9v8h-1.9z"/><path class="r" d="M300.3 280.8V285.7M300.3 286.4V287.3M299.4 285.7h1.9v0.7h-1.9z"/><path class="w" d="M301.2 278.4V286.2M301.2 288.5V290.3M300.2 286.2h1.9v2.3h-1.9z"/><path class="r" d="M302 282V284.2M302 293V297M301.1 284.2h1.9v8.9h-1.9z"/><path class="w" d="M302.9 285.5V291M302.9 292.9V303M301.9 291h1.9v1.9h-1.9z"/><path class="r" d="M303.7 287V290.2M303.7 292.6V295.8M302.8 290.2h1.9v2.4h-1.9z"/><path class="w" d="M304.6 276.4V280.5M304.6 288.7V289.4M303.6 280.5h1.9v8.2h-1.9z"/><path class="w" d="M305.4 269.8V277.8M305.4 281.4V285.5M304.5 277.8h1.9v3.6h-1.9z"/><path class="w" d="M306.3 268.6V270.3M306.3 278.5V283.2M305.3 270.3h1.9v8.2h-1.9z"/><path class="r" d="M307.1 267V269.4M307.1 280.8V282M306.2 269.4h1.9v11.4h-1.9z"/><path class="w" d="M308 264.8V275.1M308 275.8V275.9M307 275.1h1.9v0.7h-1.9z"/><path class="w" d="M308.8 264.8V270.6M308.8 275.1V276M307.9 270.6h1.9v4.5h-1.9z"/><path class="r" d="M309.7 264.8V269.9M309.7 270.7V279.6M308.8 269.9h1.9v0.8h-1.9z"/><path class="r" d="M310.5 267V272.4M310.5 274V279.6M309.6 272.4h1.9v1.6h-1.9z"/><path class="r" d="M311.4 268.8V272.9M311.4 281.6V282.5M310.4 272.9h1.9v8.7h-1.9z"/><path class="w" d="M312.2 269.8V272.6M312.2 280.3V285.9M311.3 272.6h1.9v7.7h-1.9z"/><path class="r" d="M313.1 274.7V275M313.1 284V289.4M312.1 275h1.9v9h-1.9z"/><path class="w" d="M313.9 285.1V285.1M313.9 285.8V299.3M313 285.1h1.9v0.7h-1.9z"/><path class="r" d="M314.8 289.7V289.9M314.8 292.6V295M313.8 289.9h1.9v2.7h-1.9z"/><path class="r" d="M315.6 289.8V292.6M315.6 294.6V302M314.7 292.6h1.9v1.9h-1.9z"/><path class="w" d="M316.5 286V288.6M316.5 294.6V297.5M315.5 288.6h1.9v6h-1.9z"/><path class="w" d="M317.3 281.7V286.6M317.3 287.3V287.3M316.4 286.6h1.9v0.7h-1.9z"/><path class="w" d="M318.2 265.2V267.5M318.2 275.9V277M317.2 267.5h1.9v8.5h-1.9z"/><path class="r" d="M319 260.5V267.4M319 268.6V273M318.1 267.4h1.9v1.2h-1.9z"/><path class="w" d="M319.9 262.5V267.7M319.9 268.7V269M318.9 267.7h1.9v1h-1.9z"/><path class="w" d="M320.7 247.8V249.1M320.7 263V266M319.8 249.1h1.9v13.8h-1.9z"/><path class="w" d="M321.6 240.7V248.4M321.6 249.1V255M320.6 248.4h1.9v0.7h-1.9z"/><path class="w" d="M322.4 238.4V240.7M322.4 250V250.3M321.5 240.7h1.9v9.3h-1.9z"/><path class="w" d="M323.3 240.8V240.9M323.3 241.6V252.7M322.3 240.9h1.9v0.7h-1.9z"/><path class="r" d="M324.1 242.5V242.8M324.1 244.5V254.8M323.2 242.8h1.9v1.6h-1.9z"/><path class="r" d="M325 245.6V245.9M325 254V254.1M324 245.9h1.9v8.1h-1.9z"/><path class="w" d="M325.8 247.8V250.8M325.8 253.9V263.9M324.9 250.8h1.9v3.1h-1.9z"/><path class="r" d="M326.7 257V257.3M326.7 261.4V268.9M325.8 257.3h1.9v4.1h-1.9z"/><path class="r" d="M327.5 262.1V262.4M327.5 264.1V278.2M326.6 262.4h1.9v1.7h-1.9z"/><path class="r" d="M328.4 266.3V266.6M328.4 277.3V278.8M327.4 266.6h1.9v10.7h-1.9z"/><path class="r" d="M329.2 267.9V277.4M329.2 278.7V283.5M328.3 277.4h1.9v1.4h-1.9z"/><path class="w" d="M330.1 264.2V268.9M330.1 276.3V285.3M329.1 268.9h1.9v7.4h-1.9z"/><path class="r" d="M330.9 265.6V267.8M330.9 268.5V276.2M330 267.8h1.9v0.7h-1.9z"/><path class="r" d="M331.8 266.5V267.9M331.8 272.5V279.8M330.8 267.9h1.9v4.6h-1.9z"/><path class="r" d="M332.6 268.9V271.9M332.6 276.2V283M331.7 271.9h1.9v4.2h-1.9z"/><path class="r" d="M333.5 270.8V273.9M333.5 278.6V284M332.5 273.9h1.9v4.7h-1.9z"/><path class="r" d="M334.3 273.1V276.9M334.3 281.1V282.7M333.4 276.9h1.9v4.2h-1.9z"/><path class="w" d="M335.2 269.3V275.4M335.2 282.3V285.3M334.2 275.4h1.9v6.9h-1.9z"/><path class="w" d="M336 263.8V264.9M336 272.8V283M335.1 264.9h1.9v7.8h-1.9z"/><path class="w" d="M336.9 255V264.5M336.9 265.2V268.8M335.9 264.5h1.9v0.7h-1.9z"/><path class="w" d="M337.7 251V258.8M337.7 260.6V260.9M336.8 258.8h1.9v1.8h-1.9z"/><path class="w" d="M338.6 247.7V248M338.6 257.7V258.3M337.6 248h1.9v9.8h-1.9z"/><path class="r" d="M339.4 245.6V248.2M339.4 251V257.8M338.5 248.2h1.9v2.8h-1.9z"/><path class="r" d="M340.3 249.9V251.1M340.3 255.2V260.6M339.3 251.1h1.9v4.1h-1.9z"/><path class="r" d="M341.1 251.8V256.6M341.1 261.1V261.4M340.2 256.6h1.9v4.5h-1.9z"/><path class="w" d="M342 252.8V257.9M342 261.2V262.5M341 257.9h1.9v3.3h-1.9z"/><path class="w" d="M342.8 250.7V255.2M342.8 257.4V259.4M341.9 255.2h1.9v2.2h-1.9z"/><path class="r" d="M343.7 249.4V253.3M343.7 254V260.4M342.8 253.3h1.9v0.7h-1.9z"/><path class="r" d="M344.5 250.8V252.4M344.5 253.3V266.2M343.6 252.4h1.9v1h-1.9z"/><path class="r" d="M345.4 259.1V259.2M345.4 265.8V266.6M344.4 259.2h1.9v6.6h-1.9z"/><path class="r" d="M346.2 268V269.1M346.2 280.9V281.7M345.3 269.1h1.9v11.8h-1.9z"/><path class="r" d="M347.1 282.1V282.4M347.1 284.9V294.3M346.1 282.4h1.9v2.5h-1.9z"/><path class="r" d="M347.9 288.7V289M347.9 293.5V298.2M347 289h1.9v4.5h-1.9z"/><path class="w" d="M348.8 286.1V287.4M348.8 294.2V307.4M347.8 287.4h1.9v6.8h-1.9z"/><path class="w" d="M349.6 268V276M349.6 285.6V285.9M348.7 276h1.9v9.5h-1.9z"/><path class="w" d="M350.5 265.5V266.5M350.5 274.6V274.9M349.5 266.5h1.9v8.1h-1.9z"/><path class="w" d="M351.3 260.6V263M351.3 266.3V267.5M350.4 263h1.9v3.3h-1.9z"/><path class="w" d="M352.2 254.3V257.1M352.2 261.5V264.2M351.2 257.1h1.9v4.3h-1.9z"/><path class="r" d="M353 247.5V259.2M353 273.1V273.4M352.1 259.2h1.9v13.9h-1.9z"/><path class="w" d="M353.9 288.7V290.1M353.9 290.8V305.2M352.9 290.1h1.9v0.7h-1.9z"/><path class="w" d="M354.7 295.8V295.8M354.7 296.5V318.6M353.8 295.8h1.9v0.7h-1.9z"/><path class="r" d="M355.6 286.8V296.1M355.6 302.4V307M354.6 296.1h1.9v6.2h-1.9z"/><path class="w" d="M356.4 285.5V294.8M356.4 297.7V298M355.5 294.8h1.9v2.8h-1.9z"/><path class="w" d="M357.3 283V292.5M357.3 293.2V295.6M356.3 292.5h1.9v0.7h-1.9z"/><path class="r" d="M358.1 290.6V290.9M358.1 305.8V313M357.2 290.9h1.9v14.9h-1.9z"/><path class="w" d="M359 288.1V296.2M359 306.3V307M358 296.2h1.9v10.1h-1.9z"/><path class="w" d="M359.8 281.5V292.2M359.8 297.7V300M358.9 292.2h1.9v5.4h-1.9z"/><path class="w" d="M360.7 271.8V274.8M360.7 286.1V286.4M359.8 274.8h1.9v11.3h-1.9z"/><path class="w" d="M361.5 272.7V274.2M361.5 276.6V281M360.6 274.2h1.9v2.4h-1.9z"/><path class="r" d="M362.4 263.7V275.1M362.4 275.9V277.5M361.4 275.1h1.9v0.7h-1.9z"/><path class="w" d="M363.2 260.6V261.6M363.2 271.1V271.4M362.3 261.6h1.9v9.5h-1.9z"/><path class="w" d="M364.1 259.2V260.1M364.1 261.8V264M363.1 260.1h1.9v1.7h-1.9z"/><path class="r" d="M364.9 256.9V261.1M364.9 263.5V266.3M364 261.1h1.9v2.4h-1.9z"/><path class="w" d="M365.8 255.9V256.5M365.8 262.9V263.2M364.8 256.5h1.9v6.3h-1.9z"/><path class="r" d="M366.6 252.1V256.5M366.6 258.1V260.5M365.7 256.5h1.9v1.6h-1.9z"/><path class="w" d="M367.5 245.6V251.3M367.5 254.4V254.7M366.5 251.3h1.9v3.1h-1.9z"/><path class="w" d="M368.3 244.8V248M368.3 251.3V252.2M367.4 248h1.9v3.3h-1.9z"/><path class="r" d="M369.2 243.5V247.5M369.2 249.3V251.5M368.2 247.5h1.9v1.9h-1.9z"/><path class="r" d="M370 241.4V248.1M370 249.5V252.7M369.1 248.1h1.9v1.3h-1.9z"/><path class="r" d="M370.9 240V246M370.9 256.1V259.4M369.9 246h1.9v10.2h-1.9z"/><path class="w" d="M371.7 242.8V253.3M371.7 257V262.4M370.8 253.3h1.9v3.8h-1.9z"/><path class="w" d="M372.6 242.3V242.6M372.6 252.3V256.5M371.6 242.6h1.9v9.7h-1.9z"/><path class="r" d="M373.4 239.2V242.4M373.4 247.1V253M372.5 242.4h1.9v4.7h-1.9z"/><path class="w" d="M374.3 225V242.3M374.3 243V243M373.3 242.3h1.9v0.7h-1.9z"/><path class="w" d="M375.1 223V223.6M375.1 229.2V229.5M374.2 223.6h1.9v5.5h-1.9z"/><path class="r" d="M376 222V223.7M376 224.4V226.2M375 223.7h1.9v0.7h-1.9z"/><path class="r" d="M376.8 220.1V224.3M376.8 225V230.6M375.9 224.3h1.9v0.7h-1.9z"/><path class="r" d="M377.7 216.5V224M377.7 224.7V225M376.8 224h1.9v0.7h-1.9z"/><path class="r" d="M378.5 220.7V223.4M378.5 227V231.1M377.6 223.4h1.9v3.6h-1.9z"/><path class="r" d="M379.4 223V227.2M379.4 231.2V234.8M378.4 227.2h1.9v4h-1.9z"/><path class="w" d="M380.2 226.4V230M380.2 230.7V236.2M379.3 230h1.9v0.7h-1.9z"/><path class="r" d="M381.1 230.4V230.5M381.1 234.3V236.2M380.1 230.5h1.9v3.8h-1.9z"/><path class="w" d="M381.9 228.7V231.7M381.9 234.4V238.1M381 231.7h1.9v2.7h-1.9z"/><path class="r" d="M382.8 228.7V231.6M382.8 233.8V240M381.8 231.6h1.9v2.2h-1.9z"/><path class="r" d="M383.6 232.4V234.3M383.6 238V238.3M382.7 234.3h1.9v3.7h-1.9z"/><path class="w" d="M384.5 225V234.2M384.5 234.9V235.1M383.5 234.2h1.9v0.7h-1.9z"/><path class="w" d="M385.3 232.4V234.6M385.3 235.3V235.3M384.4 234.6h1.9v0.7h-1.9z"/><path class="w" d="M386.2 227.7V229.6M386.2 235.1V236.2M385.2 229.6h1.9v5.6h-1.9z"/><path class="w" d="M387 226.6V226.8M387 229.3V230.5M386.1 226.8h1.9v2.4h-1.9z"/><path class="w" d="M387.9 220.3V224.1M387.9 225.9V230.6M386.9 224.1h1.9v1.8h-1.9z"/><path class="w" d="M388.7 218.4V222.5M388.7 224.8V226.9M387.8 222.5h1.9v2.3h-1.9z"/><path class="r" d="M389.6 224.5V224.8M389.6 228.7V232.5M388.6 224.8h1.9v3.8h-1.9z"/><path class="r" d="M390.4 231.5V231.8M390.4 233.4V239.3M389.5 231.8h1.9v1.6h-1.9z"/><path class="r" d="M391.3 238V238.5M391.3 248.9V249.3M390.3 238.5h1.9v10.4h-1.9z"/><path class="w" d="M392.1 239.5V241.6M392.1 247.6V247.9M391.2 241.6h1.9v6h-1.9z"/><path class="w" d="M393 241.5V241.8M393 243V243.1M392 241.8h1.9v1.1h-1.9z"/><path class="r" d="M393.8 243V243.3M393.8 248.2V251M392.9 243.3h1.9v4.9h-1.9z"/><path class="w" d="M394.7 238V242.8M394.7 246.5V246.8M393.8 242.8h1.9v3.7h-1.9z"/><path class="w" d="M395.5 238.4V238.6M395.5 242V242.2M394.6 238.6h1.9v3.5h-1.9z"/><path class="w" d="M396.4 223V234.7M396.4 237.2V240M395.4 234.7h1.9v2.4h-1.9z"/><path class="r" d="M397.2 227.9V234.4M397.2 236.1V240M396.3 234.4h1.9v1.7h-1.9z"/><path class="r" d="M398.1 236.9V237.6M398.1 240.5V243.7M397.1 237.6h1.9v2.9h-1.9z"/><path class="r" d="M398.9 234.3V240.8M398.9 243.7V249.2M398 240.8h1.9v2.9h-1.9z"/><path class="r" d="M399.8 237.4V244.7M399.8 245.8V256.8M398.8 244.7h1.9v1.2h-1.9z"/><path class="w" d="M400.6 242.5V243.3M400.6 244.2V246.6M399.7 243.3h1.9v1h-1.9z"/><path class="w" d="M401.5 228.2V234.4M401.5 241.3V243.7M400.5 234.4h1.9v6.8h-1.9z"/><path class="w" d="M402.3 226.8V233M402.3 233.7V237M401.4 233h1.9v0.7h-1.9z"/><path class="w" d="M403.2 226.4V230M403.2 233V235.2M402.2 230h1.9v3h-1.9z"/><path class="r" d="M404 225V229.6M404 232.5V235.6M403.1 229.6h1.9v2.9h-1.9z"/><path class="r" d="M404.9 230.6V232.8M404.9 234.2V240M403.9 232.8h1.9v1.4h-1.9z"/><path class="r" d="M405.7 229.4V234.2M405.7 239.6V241.2M404.8 234.2h1.9v5.4h-1.9z"/><path class="w" d="M406.6 228.1V237.7M406.6 239.2V241.8M405.6 237.7h1.9v1.5h-1.9z"/><path class="w" d="M407.4 226.8V229.2M407.4 234.3V234.6M406.5 229.2h1.9v5.1h-1.9z"/><path class="r" d="M408.3 223V229.6M408.3 231.3V231.6M407.3 229.6h1.9v1.7h-1.9z"/><path class="w" d="M409.1 221.9V222.5M409.1 228.8V229M408.2 222.5h1.9v6.3h-1.9z"/><path class="r" d="M410 219.3V222.5M410 224.6V226.8M409 222.5h1.9v2.2h-1.9z"/><path class="w" d="M410.8 218.5V219.7M410.8 222.8V223.1M409.9 219.7h1.9v3.1h-1.9z"/><path class="w" d="M411.7 214.7V218.8M411.7 219.5V222.9M410.8 218.8h1.9v0.7h-1.9z"/><path class="r" d="M412.5 217.5V218.5M412.5 219.5V227M411.6 218.5h1.9v1h-1.9z"/><path class="r" d="M413.4 220.2V220.5M413.4 230.7V235M412.4 220.5h1.9v10.2h-1.9z"/><path class="w" d="M414.2 223.3V223.9M414.2 230.8V234M413.3 223.9h1.9v6.8h-1.9z"/><path class="r" d="M415.1 222V226.6M415.1 232.1V242.2M414.1 226.6h1.9v5.5h-1.9z"/><path class="r" d="M415.9 235.5V235.8M415.9 243.7V247M415 235.8h1.9v8h-1.9z"/><path class="r" d="M416.8 238.7V241.6M416.8 249.4V254M415.8 241.6h1.9v7.8h-1.9z"/><path class="r" d="M417.6 232.6V247.5M417.6 248.3V255.2M416.7 247.5h1.9v0.8h-1.9z"/><path class="w" d="M418.5 217V239.8M418.5 245.5V257.6M417.6 239.8h1.9v5.8h-1.9z"/><path class="w" d="M419.3 216.5V216.9M419.3 231V231.3M418.4 216.9h1.9v14.1h-1.9z"/><path class="r" d="M420.2 217.2V217.5M420.2 224.7V228M419.2 217.5h1.9v7.2h-1.9z"/><path class="r" d="M421 224.1V224.1M421 228.7V229M420.1 224.1h1.9v4.6h-1.9z"/><path class="w" d="M421.9 219.6V222.6M421.9 228.1V230M420.9 222.6h1.9v5.5h-1.9z"/><path class="w" d="M422.8 219.5V221M422.8 223V228.1M421.8 221h1.9v2h-1.9z"/><path class="r" d="M423.6 217.5V220.7M423.6 229.5V230M422.6 220.7h1.9v8.8h-1.9z"/><path class="r" d="M424.4 218.9V227.5M424.4 228.2V232.3M423.5 227.5h1.9v0.7h-1.9z"/><path class="w" d="M425.3 223.1V224.7M425.3 227.5V230.9M424.3 224.7h1.9v2.8h-1.9z"/><path class="w" d="M426.1 221.7V222.7M426.1 224.2V233M425.2 222.7h1.9v1.6h-1.9z"/><path class="r" d="M427 223.6V223.9M427 225.5V234.4M426.1 223.9h1.9v1.6h-1.9z"/><path class="w" d="M427.8 221.7V224.8M427.8 226.4V230.2M426.9 224.8h1.9v1.6h-1.9z"/><path class="r" d="M428.7 223.2V224.5M428.7 233V236.5M427.7 224.5h1.9v8.5h-1.9z"/><path class="w" d="M429.5 225.5V227.9M429.5 232.8V235.2M428.6 227.9h1.9v4.9h-1.9z"/><path class="w" d="M430.4 220.2V226.3M430.4 229.1V240M429.4 226.3h1.9v2.8h-1.9z"/><path class="w" d="M431.2 214.4V221.1M431.2 222.3V226M430.3 221.1h1.9v1.2h-1.9z"/><path class="w" d="M432.1 202.1V202.8M432.1 208.7V212.2M431.1 202.8h1.9v5.9h-1.9z"/><path class="w" d="M432.9 190V194.6M432.9 200.9V204.9M432 194.6h1.9v6.3h-1.9z"/><path class="w" d="M433.8 188.8V189.6M433.8 194.8V195.1M432.8 189.6h1.9v5.2h-1.9z"/><path class="w" d="M434.6 180.3V182.4M434.6 190.3V192.2M433.7 182.4h1.9v7.9h-1.9z"/><path class="r" d="M435.5 176.3V181.9M435.5 182.9V188M434.6 181.9h1.9v1h-1.9z"/><path class="w" d="M436.3 173V175.4M436.3 180.1V180.4M435.4 175.4h1.9v4.7h-1.9z"/><path class="w" d="M437.2 171V175M437.2 175.7V177.9M436.2 175h1.9v0.7h-1.9z"/><path class="r" d="M438 171.8V174.9M438 175.6V176.6M437.1 174.9h1.9v0.7h-1.9z"/><path class="w" d="M438.9 171V174.1M438.9 175.4V176M437.9 174.1h1.9v1.3h-1.9z"/><path class="w" d="M439.8 171V173.7M439.8 174.4V175.3M438.8 173.7h1.9v0.7h-1.9z"/><path class="w" d="M440.6 171V171.3M440.6 173.3V175M439.6 171.3h1.9v2h-1.9z"/><path class="r" d="M441.4 170V170.5M441.4 173V176.4M440.5 170.5h1.9v2.5h-1.9z"/><path class="r" d="M442.3 170V172.3M442.3 173.3V175.5M441.3 172.3h1.9v1h-1.9z"/><path class="w" d="M443.1 169.4V169.8M443.1 172.6V172.9M442.2 169.8h1.9v2.8h-1.9z"/><path class="w" d="M444 161.8V162.1M444 169.4V170.3M443.1 162.1h1.9v7.4h-1.9z"/><path class="r" d="M444.8 161V161.3M444.8 165.5V168.1M443.9 161.3h1.9v4.1h-1.9z"/><path class="w" d="M445.7 161.7V162.9M445.7 165.6V168M444.7 162.9h1.9v2.8h-1.9z"/><path class="w" d="M446.5 161.5V162.8M446.5 163.5V164.9M445.6 162.8h1.9v0.7h-1.9z"/><path class="r" d="M447.4 160.4V161.7M447.4 165.8V169M446.4 161.7h1.9v4.1h-1.9z"/><path class="w" d="M448.2 157.4V164M448.2 166.4V168.1M447.3 164h1.9v2.4h-1.9z"/><path class="w" d="M449.1 160.8V163.4M449.1 164.1V165.5M448.1 163.4h1.9v0.7h-1.9z"/><path class="r" d="M449.9 162V162.6M449.9 170V171.7M449 162.6h1.9v7.3h-1.9z"/><path class="w" d="M450.8 163.2V163.5M450.8 170.9V175M449.8 163.5h1.9v7.4h-1.9z"/><path class="r" d="M451.6 162V163.2M451.6 164V171.7M450.7 163.2h1.9v0.8h-1.9z"/><path class="w" d="M452.5 162V162.3M452.5 163.5V163.9M451.6 162.3h1.9v1.2h-1.9z"/><path class="r" d="M453.3 162V162.5M453.3 164.9V169.3M452.4 162.5h1.9v2.4h-1.9z"/><path class="w" d="M454.2 162.9V163.4M454.2 166V170.3M453.2 163.4h1.9v2.6h-1.9z"/><path class="w" d="M455 144.5V159.1M455 162V162.3M454.1 159.1h1.9v2.8h-1.9z"/><path class="w" d="M455.9 145.5V145.8M455.9 157.7V158M454.9 145.8h1.9v12h-1.9z"/><path class="r" d="M456.8 146.8V148.1M456.8 149V158.7M455.8 148.1h1.9v0.9h-1.9z"/><path class="w" d="M457.6 153.6V153.6M457.6 154.3V168M456.6 153.6h1.9v0.7h-1.9z"/><path class="r" d="M458.4 156.9V157.2M458.4 168.9V169.1M457.5 157.2h1.9v11.8h-1.9z"/><path class="r" d="M459.3 158.5V168M459.3 168.7V170.3M458.3 168h1.9v0.7h-1.9z"/><path class="w" d="M460.1 158.5V167.3M460.1 168V170.3M459.2 167.3h1.9v0.8h-1.9z"/><path class="w" d="M461 160.4V161.9M461 167.2V171.4M460.1 161.9h1.9v5.3h-1.9z"/><path class="w" d="M461.8 157.7V160.2M461.8 161.1V168.7M460.9 160.2h1.9v0.9h-1.9z"/><path class="w" d="M462.7 153V157.8M462.7 160V165.6M461.7 157.8h1.9v2.1h-1.9z"/><path class="w" d="M463.5 149.2V151.9M463.5 156.3V156.6M462.6 151.9h1.9v4.5h-1.9z"/><path class="r" d="M464.4 146.8V151.1M464.4 153.8V156.2M463.4 151.1h1.9v2.7h-1.9z"/><path class="w" d="M465.2 147.8V148.3M465.2 153.8V155.8M464.3 148.3h1.9v5.5h-1.9z"/><path class="w" d="M466.1 147.7V147.7M466.1 148.4V155M465.1 147.7h1.9v0.7h-1.9z"/><path class="r" d="M466.9 144.5V148.2M466.9 149.6V152.2M466 148.2h1.9v1.4h-1.9z"/><path class="w" d="M467.8 139.3V144.7M467.8 147.4V147.7M466.8 144.7h1.9v2.6h-1.9z"/><path class="w" d="M468.6 134.7V135.5M468.6 143.5V144.5M467.7 135.5h1.9v8h-1.9z"/><path class="r" d="M469.5 134V134.9M469.5 138.4V142.2M468.6 134.9h1.9v3.4h-1.9z"/><path class="r" d="M470.3 136.5V139.2M470.3 145.1V153.9M469.4 139.2h1.9v5.9h-1.9z"/><path class="w" d="M471.2 135.4V139.3M471.2 144.5V146.4M470.2 139.3h1.9v5.2h-1.9z"/><path class="r" d="M472 132.3V140.1M472 145.5V146.8M471.1 140.1h1.9v5.5h-1.9z"/><path class="w" d="M472.9 130.4V131.9M472.9 142.3V142.6M471.9 131.9h1.9v10.3h-1.9z"/><path class="r" d="M473.8 131.9V132.2M473.8 140.4V140.7M472.8 132.2h1.9v8.2h-1.9z"/><path class="w" d="M474.6 132.8V137.4M474.6 139.9V140.2M473.6 137.4h1.9v2.5h-1.9z"/><path class="w" d="M475.4 133.8V134.1M475.4 137.5V141M474.5 134.1h1.9v3.3h-1.9z"/><path class="r" d="M476.3 130.4V133.7M476.3 134.4V138.1M475.3 133.7h1.9v0.7h-1.9z"/><path class="w" d="M477.1 131.3V131.3M477.1 134.4V136M476.2 131.3h1.9v3h-1.9z"/><path class="r" d="M478 130.3V131.6M478 132.7V137.5M477.1 131.6h1.9v1.1h-1.9z"/><path class="w" d="M478.8 126.5V129.4M478.8 132.6V134.1M477.9 129.4h1.9v3.2h-1.9z"/><path class="r" d="M479.7 128V129.6M479.7 131.8V138.5M478.7 129.6h1.9v2.2h-1.9z"/><path class="r" d="M480.5 131V132.3M480.5 133.9V137.4M479.6 132.3h1.9v1.6h-1.9z"/><path class="r" d="M481.4 130.7V134.2M481.4 137.9V144.9M480.4 134.2h1.9v3.7h-1.9z"/><path class="r" d="M482.2 129.4V139.6M482.2 142.2V146.5M481.3 139.6h1.9v2.6h-1.9z"/><path class="w" d="M483.1 126V135.1M483.1 140.9V141.2M482.1 135.1h1.9v5.8h-1.9z"/><path class="w" d="M483.9 125V132.1M483.9 134.5V137.4M483 132.1h1.9v2.4h-1.9z"/><path class="w" d="M484.8 124.2V124.5M484.8 133.5V134M483.8 124.5h1.9v9h-1.9z"/><path class="w" d="M485.6 121.7V124M485.6 124.7V131.7M484.7 124h1.9v0.7h-1.9z"/><path class="w" d="M486.5 116.5V120.2M486.5 123.6V125.4M485.6 120.2h1.9v3.4h-1.9z"/><path class="w" d="M487.3 111.7V115.7M487.3 120.6V121.8M486.4 115.7h1.9v5h-1.9z"/><path class="r" d="M488.2 115.4V115.7M488.2 119.8V123.3M487.2 115.7h1.9v4.1h-1.9z"/><path class="r" d="M489 118.5V120.7M489 121.5V124.2M488.1 120.7h1.9v0.8h-1.9z"/><path class="r" d="M489.9 120.1V121.3M489.9 122.2V128.1M488.9 121.3h1.9v0.9h-1.9z"/><path class="r" d="M490.8 120.1V123.5M490.8 127.4V129.7M489.8 123.5h1.9v3.9h-1.9z"/><path class="r" d="M491.6 123V128M491.6 129.8V131.7M490.6 128h1.9v1.8h-1.9z"/><path class="w" d="M492.4 124.7V128.7M492.4 130V133.8M491.5 128.7h1.9v1.4h-1.9z"/><path class="r" d="M493.3 128.7V129.4M493.3 133.5V134.9M492.3 129.4h1.9v4.1h-1.9z"/><path class="r" d="M494.1 127.5V132.9M494.1 136.1V136.6M493.2 132.9h1.9v3.2h-1.9z"/><path class="w" d="M495 129.6V135.4M495 136.5V138.2M494.1 135.4h1.9v1.1h-1.9z"/><path class="w" d="M495.8 131.6V134.4M495.8 135.1V140.2M494.9 134.4h1.9v0.7h-1.9z"/><path class="w" d="M496.7 108.5V118.5M496.7 123V123.3M495.7 118.5h1.9v4.6h-1.9z"/><path class="w" d="M497.5 106.8V109.3M497.5 113.2V113.5M496.6 109.3h1.9v3.9h-1.9z"/><path class="w" d="M498.4 105V107.5M498.4 108.6V110.6M497.4 107.5h1.9v1h-1.9z"/><path class="w" d="M499.2 104V107.4M499.2 108.1V110.6M498.3 107.4h1.9v0.7h-1.9z"/><path class="w" d="M500.1 102.2V105.7M500.1 106.5V106.8M499.1 105.7h1.9v0.8h-1.9z"/><path class="w" d="M500.9 89.5V99M500.9 101.3V101.6M500 99h1.9v2.3h-1.9z"/><path class="w" d="M501.8 87.9V88M501.8 96.3V96.5M500.8 88h1.9v8.3h-1.9z"/><path class="r" d="M502.6 85V87M502.6 91.1V93.8M501.7 87h1.9v4.1h-1.9z"/><path class="w" d="M503.5 84.1V89.6M503.5 90.5V91.6M502.6 89.6h1.9v0.9h-1.9z"/><path class="w" d="M504.3 83.2V89.8M504.3 90.5V90.6M503.4 89.8h1.9v0.7h-1.9z"/><path class="w" d="M505.2 81V84.7M505.2 87.7V88M504.2 84.7h1.9v3h-1.9z"/><path class="r" d="M506 83.3V83.6M506 84.8V86.1M505.1 83.6h1.9v1.2h-1.9z"/><path class="r" d="M506.9 81V84.5M506.9 90.3V92.1M505.9 84.5h1.9v5.8h-1.9z"/><path class="r" d="M507.8 87.4V88.9M507.8 92.6V97.8M506.8 88.9h1.9v3.7h-1.9z"/><path class="r" d="M508.6 90.6V93.1M508.6 103.4V104.3M507.6 93.1h1.9v10.3h-1.9z"/><path class="w" d="M509.4 91.4V96.3M509.4 98.6V98.9M508.5 96.3h1.9v2.4h-1.9z"/><path class="w" d="M510.3 91.6V94M510.3 95.3V99M509.3 94h1.9v1.3h-1.9z"/><path class="r" d="M511.1 92.5V93.8M511.1 98.9V99.4M510.2 93.8h1.9v5h-1.9z"/><path class="w" d="M512 93.6V98.4M512 99.1V100M511.1 98.4h1.9v0.7h-1.9z"/><path class="w" d="M512.8 92.6V95.7M512.8 98.8V100M511.9 95.7h1.9v3h-1.9z"/><path class="w" d="M513.7 89.5V93.5M513.7 96.1V96.6M512.7 93.5h1.9v2.7h-1.9z"/><path class="w" d="M514.5 81V90.9M514.5 92.8V93.1M513.6 90.9h1.9v1.9h-1.9z"/><path class="w" d="M515.4 84V87.9M515.4 90.3V90.6M514.4 87.9h1.9v2.4h-1.9z"/><path class="w" d="M516.2 79V80.3M516.2 87.5V90M515.3 80.3h1.9v7.2h-1.9z"/><path class="r" d="M517.1 83V83.3M517.1 84.9V91.6M516.1 83.3h1.9v1.6h-1.9z"/><path class="r" d="M517.9 81V85.3M517.9 87.1V89.8M517 85.3h1.9v1.8h-1.9z"/><path class="w" d="M518.8 79V85.7M518.8 87.3V88M517.8 85.7h1.9v1.6h-1.9z"/><path class="w" d="M519.6 81.3V83M519.6 85.8V88.4M518.7 83h1.9v2.8h-1.9z"/><path class="w" d="M520.5 79.8V82.7M520.5 83.4V89.5M519.5 82.7h1.9v0.7h-1.9z"/><path class="r" d="M521.3 76.6V82.6M521.3 83.3V83.6M520.4 82.6h1.9v0.7h-1.9z"/><path class="r" d="M522.2 74.8V83.1M522.2 84.5V86M521.2 83.1h1.9v1.3h-1.9z"/><path class="w" d="M523 77.8V80.7M523 84.7V86.9M522.1 80.7h1.9v4h-1.9z"/><path class="r" d="M523.9 81.7V82M523.9 89.1V91.1M522.9 82h1.9v7.1h-1.9z"/><path class="w" d="M524.8 87V87M524.8 88.7V90.6M523.8 87h1.9v1.7h-1.9z"/><path class="r" d="M525.6 84.8V87.2M525.6 94.6V94.9M524.6 87.2h1.9v7.3h-1.9z"/><path class="w" d="M526.4 89V95.1M526.4 95.8V98.4M525.5 95.1h1.9v0.7h-1.9z"/><path class="r" d="M527.3 91.1V96.7M527.3 99.1V101.6M526.3 96.7h1.9v2.4h-1.9z"/><path class="r" d="M528.1 94.7V99.9M528.1 102.7V116.4M527.2 99.9h1.9v2.8h-1.9z"/><path class="r" d="M529 100.7V103.6M529 104.3V115.1M528 103.6h1.9v0.7h-1.9z"/><path class="r" d="M529.8 104.7V105M529.8 109.1V111.1M528.9 105h1.9v4.1h-1.9z"/><path class="r" d="M530.7 105.3V108.4M530.7 109.7V112.2M529.7 108.4h1.9v1.3h-1.9z"/><path class="w" d="M531.5 103.8V104.8M531.5 109.7V110M530.6 104.8h1.9v5h-1.9z"/><path class="r" d="M532.4 104.7V105M532.4 107.1V111M531.4 105h1.9v2.1h-1.9z"/><path class="w" d="M533.2 95.3V98.6M533.2 107.9V109M532.3 98.6h1.9v9.3h-1.9z"/><path class="w" d="M534.1 96.8V96.8M534.1 98.8V99.1M533.1 96.8h1.9v2h-1.9z"/><path class="r" d="M534.9 91.1V95.7M534.9 98.5V100M534 95.7h1.9v2.8h-1.9z"/><path class="w" d="M535.8 93.2V97.3M535.8 99.5V102.4M534.8 97.3h1.9v2.2h-1.9z"/><path class="r" d="M536.6 98.6V98.9M536.6 102V110M535.7 98.9h1.9v3.1h-1.9z"/><path class="r" d="M537.5 105.5V105.8M537.5 112.3V118.5M536.5 105.8h1.9v6.5h-1.9z"/><path class="r" d="M538.3 111.4V111.8M538.3 112.5V113.9M537.4 111.8h1.9v0.7h-1.9z"/><path class="r" d="M539.2 112.2V113.8M539.2 116.2V121.2M538.2 113.8h1.9v2.4h-1.9z"/><path class="r" d="M540 116.4V117M540 122.7V123M539.1 117h1.9v5.7h-1.9z"/><path class="w" d="M540.9 118.3V121.8M540.9 122.5V124.9M539.9 121.8h1.9v0.8h-1.9z"/><path class="r" d="M541.8 120.1V122.5M541.8 123.2V129.1M540.8 122.5h1.9v0.7h-1.9z"/><path class="r" d="M542.6 121.7V122.7M542.6 124.7V130.2M541.6 122.7h1.9v2h-1.9z"/><path class="r" d="M543.4 120.7V124.8M543.4 126.6V131.2M542.5 124.8h1.9v1.8h-1.9z"/><path class="w" d="M544.3 116.4V124.1M544.3 124.8V125.1M543.3 124.1h1.9v0.7h-1.9z"/><path class="w" d="M545.1 117.4V119.2M545.1 124.5V127M544.2 119.2h1.9v5.4h-1.9z"/><path class="r" d="M546 114.3V119.5M546 121.8V125.5M545 119.5h1.9v2.3h-1.9z"/><path class="r" d="M546.8 123V123M546.8 127.8V128.4M545.9 123h1.9v4.8h-1.9z"/><path class="w" d="M547.7 118.5V123.7M547.7 127.7V133.5M546.7 123.7h1.9v3.9h-1.9z"/><path class="r" d="M548.5 122.7V125.3M548.5 131.4V138M547.6 125.3h1.9v6.1h-1.9z"/><path class="r" d="M549.4 124.9V130.8M549.4 131.5V140.7M548.4 130.8h1.9v0.7h-1.9z"/><path class="w" d="M550.2 120.6V121.9M550.2 131.4V131.7M549.3 121.9h1.9v9.5h-1.9z"/><path class="r" d="M551.1 118.5V121.5M551.1 123.6V127.8M550.1 121.5h1.9v2.1h-1.9z"/><path class="r" d="M551.9 122.8V124.4M551.9 127.4V127.8M551 124.4h1.9v3h-1.9z"/><path class="r" d="M552.8 120.4V127.2M552.8 128.3V129.4M551.8 127.2h1.9v1.1h-1.9z"/><path class="w" d="M553.6 119.5V125.5M553.6 128V131.2M552.7 125.5h1.9v2.5h-1.9z"/><path class="r" d="M554.5 120.4V125.6M554.5 128.5V129.4M553.5 125.6h1.9v2.9h-1.9z"/><path class="w" d="M555.3 123.1V126.6M555.3 127.8V130.8M554.4 126.6h1.9v1.2h-1.9z"/><path class="r" d="M556.2 124.9V126.8M556.2 134.3V136.7M555.2 126.8h1.9v7.5h-1.9z"/><path class="r" d="M557 128.5V135.9M557 138.7V142.2M556.1 135.9h1.9v2.8h-1.9z"/><path class="w" d="M557.9 127V131.4M557.9 136.4V143.8M556.9 131.4h1.9v5h-1.9z"/><path class="w" d="M558.8 124.9V129.2M558.8 129.9V134.9M557.8 129.2h1.9v0.7h-1.9z"/><path class="w" d="M559.6 120.6V126M559.6 129.3V132M558.6 126h1.9v3.3h-1.9z"/><path class="r" d="M560.4 125.8V127.2M560.4 129.9V130.2M559.5 127.2h1.9v2.7h-1.9z"/><path class="w" d="M561.3 116.8V122.9M561.3 126.4V129M560.3 122.9h1.9v3.5h-1.9z"/><path class="w" d="M562.1 111.8V116.4M562.1 119.9V120.6M561.2 116.4h1.9v3.5h-1.9z"/><path class="w" d="M563 103.8V110.1M563 112.7V113M562 110.1h1.9v2.6h-1.9z"/><path class="w" d="M563.8 99.5V103.5M563.8 107.6V107.9M562.9 103.5h1.9v4.1h-1.9z"/><path class="w" d="M564.7 100V100.4M564.7 102.7V102.8M563.7 100.4h1.9v2.3h-1.9z"/><path class="w" d="M565.5 96.9V99.5M565.5 100.6V103.8M564.6 99.5h1.9v1.1h-1.9z"/><path class="w" d="M566.4 95.8V98.8M566.4 99.5V102M565.4 98.8h1.9v0.7h-1.9z"/><path class="w" d="M567.2 95.8V97.6M567.2 98.6V100.7M566.3 97.6h1.9v1h-1.9z"/><path class="r" d="M568.1 96V97.3M568.1 98.8V100.2M567.1 97.3h1.9v1.5h-1.9z"/><path class="w" d="M568.9 93.8V98M568.9 99V99.3M568 98h1.9v1h-1.9z"/><path class="w" d="M569.8 91.7V95M569.8 97.9V98.4M568.8 95h1.9v2.9h-1.9z"/><path class="w" d="M570.6 90V90.7M570.6 95.2V96.3M569.7 90.7h1.9v4.5h-1.9z"/><path class="r" d="M571.5 86.2V90.7M571.5 92.3V93.8M570.5 90.7h1.9v1.5h-1.9z"/><path class="w" d="M572.3 80.9V81.2M572.3 88.9V89.6M571.4 81.2h1.9v7.7h-1.9z"/><path class="w" d="M573.2 74.9V78.6M573.2 80.8V82.7M572.2 78.6h1.9v2.2h-1.9z"/><path class="w" d="M574 71.7V75.5M574 78.2V78.5M573.1 75.5h1.9v2.7h-1.9z"/><path class="w" d="M574.9 71.2V74.3M574.9 75.5V76.5M573.9 74.3h1.9v1.2h-1.9z"/><path class="r" d="M575.8 70.6V73.8M575.8 75V76M574.8 73.8h1.9v1.2h-1.9z"/><path class="w" d="M576.6 70.4V71.9M576.6 74.6V74.9M575.6 71.9h1.9v2.7h-1.9z"/><path class="r" d="M577.4 68.5V71.7M577.4 74.4V74.9M576.5 71.7h1.9v2.8h-1.9z"/><path class="w" d="M578.3 68.5V71.2M578.3 73.9V74.2M577.3 71.2h1.9v2.7h-1.9z"/><path class="w" d="M579.1 67.6V68.7M579.1 71.1V71.8M578.2 68.7h1.9v2.4h-1.9z"/><path class="w" d="M580 66.1V66.7M580 69.9V72M579 66.7h1.9v3.2h-1.9z"/><path class="r" d="M580.8 65.4V67.2M580.8 69.2V72.8M579.9 67.2h1.9v2h-1.9z"/><path class="r" d="M581.7 66.3V69.3M581.7 74.4V74.9M580.7 69.3h1.9v5.1h-1.9z"/><path class="w" d="M582.5 62.2V65.8M582.5 71.7V72M581.6 65.8h1.9v5.9h-1.9z"/><path class="w" d="M583.4 64.4V65.1M583.4 66.4V70.6M582.4 65.1h1.9v1.3h-1.9z"/><path class="w" d="M584.2 58V64.3M584.2 65V70.6M583.3 64.3h1.9v0.7h-1.9z"/><path class="w" d="M585.1 52.2V55.4M585.1 56.6V58M584.1 55.4h1.9v1.3h-1.9z"/><path class="w" d="M585.9 38V40.4M585.9 47.6V47.9M585 40.4h1.9v7.2h-1.9z"/><path class="r" d="M586.8 36.9V40.7M586.8 44.3V45.9M585.8 40.7h1.9v3.5h-1.9z"/><path class="w" d="M587.6 38.5V39.5M587.6 42.4V42.7M586.7 39.5h1.9v2.9h-1.9z"/><path class="w" d="M588.5 35.5V37.9M588.5 39.2V41M587.5 37.9h1.9v1.3h-1.9z"/><path class="w" d="M589.3 34.8V35.9M589.3 37.1V44.1M588.4 35.9h1.9v1.1h-1.9z"/><path class="r" d="M590.2 40.4V40.7M590.2 44V49.5M589.2 40.7h1.9v3.3h-1.9z"/><path class="r" d="M591 42.7V43M591 51.1V55.9M590.1 43h1.9v8.1h-1.9z"/><path class="r" d="M591.9 50.1V52.1M591.9 57.5V61.6M590.9 52.1h1.9v5.4h-1.9z"/><path class="r" d="M592.8 55.9V57.6M592.8 66.5V70.8M591.8 57.6h1.9v8.9h-1.9z"/><path class="r" d="M593.6 60V65.4M593.6 66.6V79M592.6 65.4h1.9v1.2h-1.9z"/><path class="r" d="M594.4 66.1V66.9M594.4 73.2V75.1M593.5 66.9h1.9v6.3h-1.9z"/><path class="w" d="M595.3 62.2V66.3M595.3 72.8V73.1M594.3 66.3h1.9v6.5h-1.9z"/><path class="w" d="M596.1 59.1V64.7M596.1 66.3V69.2M595.2 64.7h1.9v1.6h-1.9z"/><path class="r" d="M597 57V64.7M597 66.2V71.4M596 64.7h1.9v1.5h-1.9z"/><path class="w" d="M597.8 59.5V65.1M597.8 66.6V72.7M596.9 65.1h1.9v1.5h-1.9z"/><path class="w" d="M598.7 58V64.2M598.7 64.9V70.6M597.7 64.2h1.9v0.7h-1.9z"/><path class="w" d="M599.5 59.5V60.6M599.5 64.2V69M598.6 60.6h1.9v3.6h-1.9z"/><path class="r" d="M600.4 57V60.1M600.4 60.8V67.2M599.4 60.1h1.9v0.7h-1.9z"/><path class="r" d="M601.2 57.7V58.6M601.2 63.2V68.7M600.3 58.6h1.9v4.5h-1.9z"/><path class="r" d="M602.1 57V58.3M602.1 71.8V83.3M601.1 58.3h1.9v13.5h-1.9z"/><path class="w" d="M602.9 62.2V62.6M602.9 68.3V68.6M602 62.6h1.9v5.7h-1.9z"/><path class="r" d="M603.8 63.9V63.9M603.8 64.6V70.6M602.8 63.9h1.9v0.7h-1.9z"/><path class="w" d="M604.6 53.8V63M604.6 64.3V65.1M603.7 63h1.9v1.4h-1.9z"/><path class="w" d="M605.5 57V60.5M605.5 62.9V63.2M604.5 60.5h1.9v2.4h-1.9z"/><path class="w" d="M606.3 57V59.7M606.3 60.4V65.3M605.4 59.7h1.9v0.7h-1.9z"/><path class="r" d="M607.2 57.8V60.3M607.2 64.1V68.5M606.2 60.3h1.9v3.8h-1.9z"/><path class="w" d="M608 55.9V60.9M608 64.3V64.9M607.1 60.9h1.9v3.4h-1.9z"/><path class="w" d="M608.9 47.4V58.4M608.9 59.6V59.9M607.9 58.4h1.9v1.2h-1.9z"/><path class="w" d="M609.8 51V55.5M609.8 57.4V60.1M608.8 55.5h1.9v1.9h-1.9z"/><path class="r" d="M610.6 49.5V56.6M610.6 62.3V63.9M609.6 56.6h1.9v5.8h-1.9z"/><path class="w" d="M611.4 53.8V54.4M611.4 63.7V68.6M610.5 54.4h1.9v9.3h-1.9z"/><path class="w" d="M612.3 59.3V59.3M612.3 60V70.6M611.3 59.3h1.9v0.7h-1.9z"/><path class="r" d="M613.1 62V62.3M613.1 68.3V75M612.2 62.3h1.9v5.9h-1.9z"/><path class="r" d="M614 68.6V69.2M614 73V81.2M613 69.2h1.9v3.9h-1.9z"/><path class="w" d="M614.8 62.8V66.6M614.8 77.5V87.5M613.9 66.6h1.9v10.8h-1.9z"/><path class="w" d="M615.7 57.5V63.7M615.7 64.7V65M614.7 63.7h1.9v1h-1.9z"/><path class="w" d="M616.5 42.5V51.8M616.5 58.3V58.6M615.6 51.8h1.9v6.6h-1.9z"/><path class="w" d="M617.4 43.9V44.2M617.4 51.9V53.1M616.4 44.2h1.9v7.7h-1.9z"/><path class="r" d="M618.2 45.5V45.8M618.2 47.3V53.7M617.3 45.8h1.9v1.4h-1.9z"/><path class="r" d="M619.1 48.3V48.6M619.1 53.2V57.5M618.1 48.6h1.9v4.6h-1.9z"/><path class="r" d="M619.9 50.9V52.9M619.9 55.6V58.4M619 52.9h1.9v2.6h-1.9z"/><path class="w" d="M620.8 51.1V54.7M620.8 55.7V59.3M619.8 54.7h1.9v1h-1.9z"/><path class="r" d="M621.6 47.9V54.8M621.6 56.1V57.5M620.7 54.8h1.9v1.4h-1.9z"/><path class="w" d="M622.5 41.7V48.7M622.5 52.1V53.7M621.5 48.7h1.9v3.5h-1.9z"/><path class="w" d="M623.3 37.6V38.9M623.3 46.9V48M622.4 38.9h1.9v7.9h-1.9z"/><path class="w" d="M624.2 31.2V37.7M624.2 38.9V42.5M623.2 37.7h1.9v1.2h-1.9z"/><path class="w" d="M625 30.3V35.2M625 37.5V40.7M624.1 35.2h1.9v2.3h-1.9z"/><path class="r" d="M625.9 42.7V43M625.9 45.1V50M624.9 43h1.9v2h-1.9z"/><path class="r" d="M626.8 45.7V46M626.8 47.1V51.8M625.8 46h1.9v1.1h-1.9z"/><path class="r" d="M627.6 47.4V47.7M627.6 51.4V53.7M626.6 47.7h1.9v3.7h-1.9z"/><path class="r" d="M628.4 50.8V52.2M628.4 55.7V55.7M627.5 52.2h1.9v3.5h-1.9z"/><path class="r" d="M629.3 51.8V57.2M629.3 60.7V80M628.3 57.2h1.9v3.5h-1.9z"/><path class="r" d="M630.1 70.1V70.4M630.1 80.4V85.4M629.2 70.4h1.9v10h-1.9z"/><path class="r" d="M631 80V83.3M631 89.1V95.9M630 83.3h1.9v5.8h-1.9z"/><path class="r" d="M631.8 90V91M631.8 104.7V107.3M630.9 91h1.9v13.7h-1.9z"/><path class="r" d="M632.7 94V104.9M632.7 107.1V119M631.7 104.9h1.9v2.1h-1.9z"/><path class="r" d="M633.5 102.4V108M633.5 110.7V136.2M632.6 108h1.9v2.7h-1.9z"/><path class="r" d="M634.4 115.1V115.4M634.4 130.1V133.1M633.4 115.4h1.9v14.7h-1.9z"/><path class="w" d="M635.2 113.2V113.5M635.2 125.6V129.9M634.3 113.5h1.9v12.1h-1.9z"/><path class="w" d="M636.1 104.3V108.8M636.1 113.8V117.2M635.1 108.8h1.9v5h-1.9z"/><path class="w" d="M636.9 102.4V102.8M636.9 107.6V113.2M636 102.8h1.9v4.7h-1.9z"/><path class="r" d="M637.8 102.4V103.2M637.8 106V113M636.8 103.2h1.9v2.8h-1.9z"/><path class="r" d="M638.6 103.4V104.6M638.6 111.6V112.5M637.7 104.6h1.9v7h-1.9z"/><path class="w" d="M639.5 102.4V106.9M639.5 110.9V115M638.5 106.9h1.9v4h-1.9z"/><path class="w" d="M640.3 101.8V103.3M640.3 108.7V110.9M639.4 103.3h1.9v5.3h-1.9z"/><path class="r" d="M641.2 98.2V102.5M641.2 105.8V108.8M640.2 102.5h1.9v3.3h-1.9z"/><path class="r" d="M642 104.7V107M642 110.4V117.2M641.1 107h1.9v3.4h-1.9z"/><path class="r" d="M642.9 108.9V109.5M642.9 114V115M641.9 109.5h1.9v4.4h-1.9z"/><path class="r" d="M643.8 110.9V117.1M643.8 122.6V132M642.8 117.1h1.9v5.5h-1.9z"/><path class="r" d="M644.6 126.6V126.9M644.6 137.2V147.8M643.6 126.9h1.9v10.4h-1.9z"/><path class="w" d="M645.4 121.4V122M645.4 134.3V134.6M644.5 122h1.9v12.3h-1.9z"/><path class="w" d="M646.3 113V120.5M646.3 122.5V125.6M645.3 120.5h1.9v2h-1.9z"/><path class="w" d="M647.1 109.5V110.7M647.1 119.5V119.8M646.2 110.7h1.9v8.8h-1.9z"/><path class="r" d="M648 106.6V112M648 115.5V118M647 112h1.9v3.5h-1.9z"/><path class="r" d="M648.8 108.8V113.9M648.8 117.6V119.8M647.9 113.9h1.9v3.7h-1.9z"/><path class="w" d="M649.7 110.9V111.8M649.7 118.7V121.4M648.7 111.8h1.9v6.9h-1.9z"/><path class="r" d="M650.5 112.7V113M650.5 119.3V123.5M649.6 113h1.9v6.3h-1.9z"/><path class="r" d="M651.4 114.3V118.3M651.4 120.8V125.6M650.4 118.3h1.9v2.5h-1.9z"/><path class="w" d="M652.2 116.9V117.2M652.2 122.6V126.9M651.3 117.2h1.9v5.3h-1.9z"/><path class="w" d="M653.1 119.3V122.1M653.1 122.8V134.5M652.1 122.1h1.9v0.7h-1.9z"/><path class="r" d="M653.9 129.9V130.6M653.9 136.7V147.2M653 130.6h1.9v6.1h-1.9z"/><path class="r" d="M654.8 135.8V137.7M654.8 141.6V155.2M653.8 137.7h1.9v3.9h-1.9z"/><path class="w" d="M655.6 132V142M655.6 143.1V147.9M654.7 142h1.9v1.1h-1.9z"/><path class="w" d="M656.5 129.9V137.3M656.5 141.1V145.4M655.5 137.3h1.9v3.8h-1.9z"/><path class="r" d="M657.3 130.8V136.9M657.3 138.1V143.7M656.4 136.9h1.9v1.2h-1.9z"/><path class="w" d="M658.2 129.7V135.3M658.2 138.8V142.5M657.2 135.3h1.9v3.5h-1.9z"/><path class="w" d="M659 123.1V126M659 129.4V129.9M658.1 126h1.9v3.4h-1.9z"/><path class="w" d="M659.9 116.1V120.9M659.9 125.4V126M658.9 120.9h1.9v4.5h-1.9z"/><path class="w" d="M660.8 113V119.3M660.8 120.3V122.7M659.8 119.3h1.9v1h-1.9z"/><path class="w" d="M661.6 111.4V117.3M661.6 119V120.1M660.6 117.3h1.9v1.8h-1.9z"/><path class="w" d="M662.4 106.8V108.8M662.4 117V119.3M661.5 108.8h1.9v8.2h-1.9z"/><path class="w" d="M663.3 101.8V107.1M663.3 108V113M662.3 107.1h1.9v0.9h-1.9z"/><path class="w" d="M664.1 96.1V104M664.1 104.7V104.9M663.2 104h1.9v0.7h-1.9z"/><path class="w" d="M665 97.6V99.1M665 104.3V106.6M664 99.1h1.9v5.2h-1.9z"/><path class="w" d="M665.8 96.1V96.4M665.8 99.3V100.8M664.9 96.4h1.9v2.9h-1.9z"/><path class="w" d="M666.7 94V94.9M666.7 96.3V103.7M665.7 94.9h1.9v1.4h-1.9z"/><path class="r" d="M667.5 95.8V96.1M667.5 100.9V107.7M666.6 96.1h1.9v4.8h-1.9z"/><path class="r" d="M668.4 94V98.2M668.4 105.5V115M667.4 98.2h1.9v7.2h-1.9z"/><path class="w" d="M669.2 91.9V103.3M669.2 104V104M668.3 103.3h1.9v0.7h-1.9z"/><path class="w" d="M670.1 87.3V91.6M670.1 95.4V95.7M669.1 91.6h1.9v3.9h-1.9z"/><path class="w" d="M670.9 83V86.4M670.9 90.8V91.9M670 86.4h1.9v4.4h-1.9z"/><path class="w" d="M671.8 82.2V83.3M671.8 86.7V89.6M670.8 83.3h1.9v3.4h-1.9z"/></g>
<g stroke="#3030ff" stroke-width="1"><line x1="50.5" y1="78.5" x2="740" y2="78.5"/><line x1="50.5" y1="108.5" x2="740" y2="108.5"/><line x1="50.5" y1="118" x2="740" y2="118"/><line x1="50.5" y1="127.4" x2="740" y2="127.4"/><line x1="50.5" y1="157.5" x2="740" y2="157.5"/><line x1="196" y1="30.4" x2="740" y2="30.4"/><line x1="196" y1="78.9" x2="740" y2="78.9"/><line x1="196" y1="94" x2="740" y2="94"/><line x1="196" y1="108.5" x2="740" y2="108.5"/><line x1="196" y1="157.5" x2="740" y2="157.5"/></g>
<g class="fib"><text x="57.8" y="88.8">100,00% - 12877,07</text><text x="57.8" y="118.8">61,80% - 12424,85</text><text x="57.8" y="128.1">50,00% - 12285,16</text><text x="57.8" y="137.7">38,20% - 12145,47</text><text x="57.8" y="167.8">0,00% - 11693,25</text><text x="202.8" y="40.7">100,00% - 13599,4</text><text x="202.8" y="89.3">61,80% - 12871,25</text><text x="202.8" y="104.3">50,00% - 12646,32</text><text x="202.8" y="119.1">38,20% - 12421,4</text><text x="202.8" y="167.8">0,00% - 11693,25</text></g>
<line x1="0" y1="414.5" x2="740.5" y2="414.5" stroke="#f2c4c4" stroke-width="1"/>
<line x1="0" y1="415.5" x2="740" y2="415.5" stroke="#e4e4e4" stroke-width="1"/>
<line x1="740.5" y1="0" x2="740.5" y2="415" stroke="#f2c4c4" stroke-width="1"/>
<path d="M13.5 415V418.6M29.5 415V418.6M58.5 415V418.6M100.5 415V418.6M142.5 415V418.6M168.5 415V418.6M183.5 415V418.6M228.5 415V418.6M271.5 415V418.6M313.5 415V418.6M356.5 415V418.6M401.5 415V418.6M444.5 415V418.6M488.5 415V418.6M529.5 415V418.6M573.5 415V418.6M614.5 415V418.6M657.5 415V418.6M691.5 415V418.6M711.5 415V418.6" stroke="#666" stroke-width="1" shape-rendering="crispEdges"/>
<path d="M741 3.5H745M741 36.5H745M741 70.5H745M741 103.5H745M741 136.5H745M741 170.5H745M741 203.5H745M741 236.5H745M741 270.5H745M741 303.5H745M741 336.5H745M741 370.5H745M741 403.5H745M741 410.5H743M741 396.5H743M741 390.5H743M741 383.5H743M741 376.5H743M741 363.5H743M741 356.5H743M741 350.5H743M741 343.5H743M741 330.5H743M741 323.5H743M741 316.5H743M741 310.5H743M741 296.5H743M741 290.5H743M741 283.5H743M741 276.5H743M741 263.5H743M741 256.5H743M741 250.5H743M741 243.5H743M741 230.5H743M741 223.5H743M741 216.5H743M741 210.5H743M741 196.5H743M741 190.5H743M741 183.5H743M741 176.5H743M741 163.5H743M741 156.5H743M741 150.5H743M741 143.5H743M741 130.5H743M741 123.5H743M741 116.5H743M741 110.5H743M741 96.5H743M741 90.5H743M741 83.5H743M741 76.5H743M741 63.5H743M741 56.5H743M741 50.5H743M741 43.5H743M741 30.5H743M741 23.5H743M741 16.5H743M741 10.5H743" stroke="#666" stroke-width="0.75"/>
<g class="ax"><text x="13.9" y="427.2">Jul</text><text x="29.9" y="427.2">Aug</text><text x="58.9" y="427.2">Okt</text><text x="100.6" y="427.2">2015</text><text x="142.8" y="427.2">Apr</text><text x="169.3" y="427.2">Jun</text><text x="184.3" y="427.2">Jul</text><text x="229.3" y="427.2">Okt</text><text x="271.9" y="427.2">2016</text><text x="313.9" y="427.2">Apr</text><text x="356.9" y="427.2">Jul</text><text x="401.9" y="427.2">Okt</text><text x="444.9" y="427.2">2017</text><text x="488.9" y="427.2">Apr</text><text x="530.3" y="427.2">Jul</text><text x="573.9" y="427.2">Okt</text><text x="615" y="427.2">2018</text><text x="658.2" y="427.2">Apr</text><text x="692" y="427.2">Jun</text><text x="712" y="427.2">Jul</text></g>
<g class="ax"><text x="747.3" y="39.9">1</text><text x="747.3" y="73.2">1</text><text x="747.3" y="106.5">1</text><text x="747.3" y="139.8">1</text><text x="747.3" y="173.2">1</text><text x="747.3" y="206.5">1</text><text x="747.3" y="239.8">1</text><text x="747.3" y="273.1">1</text><text x="747.3" y="306.4">1</text><text x="747.3" y="339.8">1</text><text x="747.3" y="373.1">1</text><text x="746.8" y="406.4">8</text></g>
<path d="M741 82.4 L745.3 76.2 H752 V88.6 H745.3 Z" fill="#dedede" stroke="#555" stroke-width="0.8"/>
<text x="747.6" y="85.3" class="ax">1</text>
<rect x="0" y="0" width="409" height="8.6" fill="#fff"/>
<g class="hd"><text x="-0.8" y="6.7" textLength="97.7" lengthAdjust="spacingAndGlyphs" class="h">DAX Perf. Index [.DAX Täglich]</text><text x="100" y="6.7" textLength="37.2" lengthAdjust="spacingAndGlyphs" class="h">04.05.2018</text><text x="140" y="6.7" textLength="2.2" lengthAdjust="spacingAndGlyphs" class="h">-</text><text x="143.4" y="6.7" textLength="39.1" lengthAdjust="spacingAndGlyphs" class="g">O:12733,19</text><text x="184.7" y="6.7" textLength="38.2" lengthAdjust="spacingAndGlyphs" class="h">H:12819,60</text><text x="224.7" y="6.7" textLength="36.8" lengthAdjust="spacingAndGlyphs" class="h">L:12707,86</text><text x="263.4" y="6.7" textLength="36.5" lengthAdjust="spacingAndGlyphs" class="g">C:12819,60</text><text x="304.5" y="6.7" textLength="27.7" lengthAdjust="spacingAndGlyphs" class="g">+129,45</text><text x="334.6" y="6.7" textLength="26.8" lengthAdjust="spacingAndGlyphs" class="g">+1,02%</text><text x="363.9" y="6.7" textLength="3.3" lengthAdjust="spacingAndGlyphs" class="o">•</text><text x="369" y="6.7" textLength="39.2" lengthAdjust="spacingAndGlyphs" class="o">15 min delay</text></g>
</svg>
<div id="nav"><svg width="80" height="43" viewBox="0 0 80 43">
<text x="12.6" y="12.9" class="nt" textLength="36.9" lengthAdjust="spacingAndGlyphs">Navigation</text>
<text x="61" y="13.2" class="nx">×</text>
<rect x="3.8" y="15.8" width="80" height="1" fill="#d6d6d6"/>
<g fill="#484848">
<rect x="6.8" y="23.4" width="4.6" height="3.5" rx="1"/><rect x="12.4" y="23.4" width="4.6" height="3.5" rx="1"/><rect x="18" y="23.4" width="4.6" height="3.5" rx="1"/>
<rect x="6.8" y="27.9" width="4.6" height="3.5" rx="1"/><rect x="12.4" y="27.9" width="4.6" height="3.5" rx="1"/><rect x="18" y="27.9" width="4.6" height="3.5" rx="1"/>
<rect x="6.8" y="32.4" width="4.6" height="3.5" rx="1"/><rect x="12.4" y="32.4" width="4.6" height="3.5" rx="1"/><rect x="18" y="32.4" width="4.6" height="3.5" rx="1"/>
</g>
<g fill="#bdbdbd">
<path d="M28.5 29.5 L35.5 24.8 V34.2 Z M35.5 29.5 L42.5 24.8 V34.2 Z"/>
<path d="M49.5 24.8 L56.5 29.5 L49.5 34.2 Z M56.5 24.8 L63.5 29.5 L56.5 34.2 Z"/>
</g></svg></div>
</body></html>
